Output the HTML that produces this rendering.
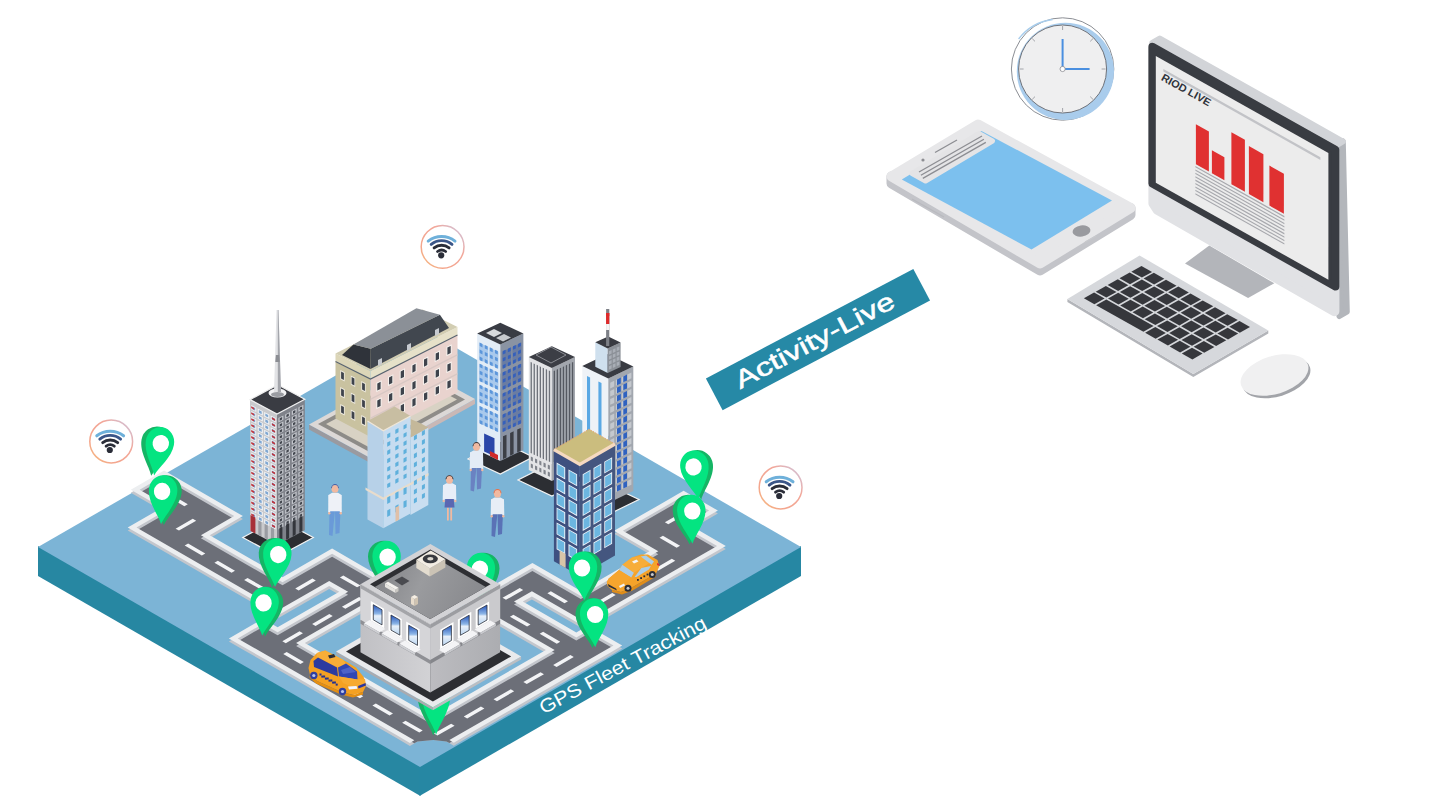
<!DOCTYPE html>
<html><head><meta charset="utf-8"><style>
html,body{margin:0;padding:0;background:#fff;overflow:hidden;}
svg{display:block;}
text{font-family:"Liberation Sans",sans-serif;}
</style></head><body>
<svg width="1440" height="810" viewBox="0 0 1440 810">
<defs>
<linearGradient id="cbL" x1="0" y1="0" x2="1" y2="0"><stop offset="0" stop-color="#c0c0c4"/><stop offset="1" stop-color="#d2d2d5"/></linearGradient>
<linearGradient id="cbR" x1="0" y1="0" x2="1" y2="0"><stop offset="0" stop-color="#bcbcc0"/><stop offset="1" stop-color="#acadb1"/></linearGradient>
<linearGradient id="roofG" x1="0" y1="0" x2="1" y2="0.3"><stop offset="0" stop-color="#7e7f83"/><stop offset="0.5" stop-color="#9a9b9e"/><stop offset="1" stop-color="#8a8b8f"/></linearGradient>
<linearGradient id="winG" x1="0" y1="0" x2="0" y2="1"><stop offset="0" stop-color="#2452b8"/><stop offset="0.45" stop-color="#8fb8e8"/><stop offset="0.55" stop-color="#e8f0fa"/><stop offset="1" stop-color="#b8d4f0"/></linearGradient>

<linearGradient id="wifiRing" x1="1" y1="0" x2="0" y2="1">
<stop offset="0" stop-color="#c9c8e6"/><stop offset="0.35" stop-color="#f2a79a"/><stop offset="0.75" stop-color="#f4a68c"/><stop offset="1" stop-color="#f6c07c"/>
</linearGradient>
</defs>
<rect width="1440" height="810" fill="#ffffff"/>
<polygon points="38.0,546.0 420.5,766.0 420.5,796.0 38.0,576.0" fill="#2787a2" />
<polygon points="419.5,766.0 801.0,546.0 801.0,576.0 419.5,796.0" fill="#2687a3" />
<polygon points="420.0,327.0 801.0,547.0 420.0,767.0 38.0,547.0" fill="#7cb4d6" />
<path d="M431.3,719.0L304.8,646.0L366.5,610.5L400.3,591.0L373.1,575.3L363.0,569.4L332.1,551.6L298.3,571.1L282.5,580.2L209.7,538.2L242.9,519.1L164.1,473.5L130.8,492.7L162.1,510.7L127.7,530.5L248.1,600.0L278.9,617.8L313.3,598.0L329.2,588.9L339.3,594.7L277.6,630.3L262.9,621.8L228.9,641.4L243.6,649.9L270.8,665.6L397.3,738.6L409.9,745.9L417.5,741.5L433.2,739.9L446.5,741.5L453.8,745.7L465.6,738.8L580.2,672.8L610.6,655.4L622.2,648.6L587.9,628.8L576.3,635.5L522.8,604.6L531.9,599.4L551.5,610.7L585.1,630.0L614.3,613.2L683.1,573.6L725.8,549.0L692.3,529.6L691.2,529.0L717.9,513.6L683.6,493.8L656.9,509.2L614.1,533.8L648.4,553.6L649.5,554.3L580.8,593.9L561.1,582.5L532.4,565.9L503.2,582.8L494.0,588.0L463.6,605.5L492.4,622.1L545.9,653.0L431.3,719.0Z" fill="#c3c6cc"/>
<path d="M431.3,724.1L296.1,646.0L391.6,591.0L332.1,556.7L282.5,585.3L200.9,538.2L234.2,519.1L164.1,478.6L139.6,492.7L170.8,510.7L136.5,530.5L279.0,612.8L329.2,583.9L348.1,594.7L277.6,635.3L262.9,626.9L237.7,641.4L414.3,743.3L417.5,741.5L433.2,739.9L446.5,741.5L449.4,743.1L613.5,648.6L587.9,633.9L576.3,640.6L514.0,604.6L531.9,594.3L585.1,625.0L717.1,549.0L682.4,529.0L709.1,513.6L683.6,498.8L622.9,533.8L658.3,554.3L580.8,598.9L532.4,571.0L472.4,605.5L554.7,653.0L431.3,724.1Z" fill="#6c6f78"/>
<path d="M304.8,643.0L366.5,607.5L400.3,588.0L373.1,572.3L363.0,566.4L332.1,548.6L298.3,568.1L282.5,577.2L209.7,535.2L242.9,516.1L164.1,470.5L130.8,489.7L162.1,507.7L127.7,527.5L248.1,597.0L278.9,614.8L313.3,595.0L329.2,585.9L339.3,591.7L277.6,627.3L262.9,618.8L228.9,638.4L243.6,646.9L270.8,662.6L397.3,735.6L409.9,742.9L414.3,740.3L237.7,638.4L262.9,623.9L277.6,632.3L348.1,591.7L329.2,580.9L279.0,609.8L136.5,527.5L170.8,507.7L139.6,489.7L164.1,475.6L234.2,516.1L200.9,535.2L282.5,582.3L332.1,553.7L391.6,588.0L296.1,643.0L431.3,721.1L554.7,650.0L472.4,602.5L532.4,568.0L580.8,595.9L658.3,551.3L622.9,530.8L683.6,495.8L709.1,510.6L682.4,526.0L717.1,546.0L585.1,622.0L531.9,591.3L514.0,601.6L576.3,637.6L587.9,630.9L613.5,645.6L449.4,740.1L453.8,742.7L465.6,735.8L580.2,669.8L610.6,652.4L622.2,645.6L587.9,625.8L576.3,632.5L522.8,601.6L531.9,596.4L551.5,607.7L585.1,627.0L614.3,610.2L683.1,570.6L725.8,546.0L692.3,526.6L691.2,526.0L717.9,510.6L683.6,490.8L656.9,506.2L614.1,530.8L648.4,550.6L649.5,551.3L580.8,590.9L561.1,579.5L532.4,562.9L503.2,579.8L494.0,585.0L463.6,602.5L492.4,619.1L545.9,650.0L431.3,716.0L304.8,643.0Z" fill="#eceef0"/>
<g transform="matrix(3.81,2.2,-3.82,2.2,420,327)"><path d="M5.40,71.10L9.90,71.10M14.30,73.30L14.30,77.80M18.90,80.00L23.40,80.00M26.70,80.00L31.20,80.00M34.50,80.00L39.00,80.00M43.60,75.70L43.60,71.20M46.50,66.90L51.00,66.90M53.90,69.25L53.90,73.75M53.90,77.05L53.90,81.55M53.90,84.85L53.90,89.35M56.50,91.70L61.00,91.70M64.30,91.70L68.80,91.70M72.10,91.70L76.60,91.70M79.90,91.70L84.40,91.70M87.70,91.70L92.20,91.70M94.80,90.45L94.80,85.95M94.80,82.65L94.80,78.15M94.80,74.85L94.80,70.35M94.80,67.05L94.80,62.55M94.80,59.25L94.80,54.75M90.00,53.50L85.50,53.50M82.20,53.50L77.70,53.50M72.90,50.65L72.90,46.15M77.30,43.30L81.80,43.30M86.20,39.70L86.20,35.20M86.20,31.90L86.20,27.40M86.20,24.10L86.20,19.60M83.85,16.00L79.35,16.00M77.00,12.25L77.00,7.75" fill="none" stroke="#f3f4f6" stroke-width="0.9"/></g>
<polygon points="309.0,424.5 369.5,457.5 369.5,462.5 309.0,429.5" fill="#9a9aa0" />
<polygon points="369.5,457.5 475.0,399.0 475.0,404.0 369.5,462.5" fill="#c9b8b6" />
<polygon points="309.0,424.5 369.5,457.5 475.0,399.0 414.5,366.0" fill="#dcd8d6" />
<polygon points="318.0,424.0 369.5,452.0 465.0,399.5 414.5,372.0" fill="#8e8c88" />
<polygon points="326.0,424.0 369.5,447.5 457.0,399.5 414.5,377.0" fill="#d8d2c4" />
<polygon points="335.5,418.5 370.5,437.0 370.5,379.0 335.5,361.5" fill="#c9c2a0" />
<polygon points="370.5,437.0 457.5,392.5 457.5,335.0 370.5,379.0" fill="#e9d3ce" />
<polygon points="340.3,413.2 344.7,415.5 344.7,406.2 340.3,403.9" fill="#eeeae0" />
<polygon points="340.3,396.2 344.7,398.5 344.7,389.2 340.3,386.9" fill="#eeeae0" />
<polygon points="340.3,379.2 344.7,381.5 344.7,372.2 340.3,369.9" fill="#eeeae0" />
<polygon points="350.8,418.8 355.2,421.1 355.2,411.7 350.8,409.4" fill="#eeeae0" />
<polygon points="350.8,401.8 355.2,404.1 355.2,394.7 350.8,392.4" fill="#eeeae0" />
<polygon points="350.8,384.8 355.2,387.1 355.2,377.7 350.8,375.4" fill="#eeeae0" />
<polygon points="361.3,424.3 365.7,426.6 365.7,417.3 361.3,415.0" fill="#eeeae0" />
<polygon points="361.3,407.3 365.7,409.6 365.7,400.3 361.3,398.0" fill="#eeeae0" />
<polygon points="361.3,390.3 365.7,392.6 365.7,383.3 361.3,381.0" fill="#eeeae0" />
<polygon points="341.1,412.5 343.9,414.0 343.9,406.9 341.1,405.4" fill="#3e434c" />
<polygon points="341.1,395.5 343.9,397.0 343.9,389.9 341.1,388.4" fill="#3e434c" />
<polygon points="341.1,378.5 343.9,380.0 343.9,372.9 341.1,371.4" fill="#3e434c" />
<polygon points="351.6,418.1 354.4,419.5 354.4,412.4 351.6,411.0" fill="#3e434c" />
<polygon points="351.6,401.1 354.4,402.5 354.4,395.4 351.6,394.0" fill="#3e434c" />
<polygon points="351.6,384.1 354.4,385.5 354.4,378.4 351.6,377.0" fill="#3e434c" />
<polygon points="362.1,423.6 364.9,425.1 364.9,418.0 362.1,416.5" fill="#3e434c" />
<polygon points="362.1,406.6 364.9,408.1 364.9,401.0 362.1,399.5" fill="#3e434c" />
<polygon points="362.1,389.6 364.9,391.1 364.9,384.0 362.1,382.5" fill="#3e434c" />
<polygon points="376.3,426.2 381.6,423.5 381.6,414.2 376.3,416.8" fill="#f6f2ee" />
<polygon points="376.3,409.2 381.6,406.5 381.6,397.2 376.3,399.8" fill="#f6f2ee" />
<polygon points="376.3,392.2 381.6,389.5 381.6,380.2 376.3,382.8" fill="#f6f2ee" />
<polygon points="388.0,420.2 393.3,417.5 393.3,408.2 388.0,410.9" fill="#f6f2ee" />
<polygon points="388.0,403.2 393.3,400.5 393.3,391.2 388.0,393.9" fill="#f6f2ee" />
<polygon points="388.0,386.2 393.3,383.5 393.3,374.2 388.0,376.9" fill="#f6f2ee" />
<polygon points="399.7,414.2 404.9,411.6 404.9,402.2 399.7,404.9" fill="#f6f2ee" />
<polygon points="399.7,397.2 404.9,394.6 404.9,385.2 399.7,387.9" fill="#f6f2ee" />
<polygon points="399.7,380.2 404.9,377.6 404.9,368.2 399.7,370.9" fill="#f6f2ee" />
<polygon points="411.4,408.3 416.6,405.6 416.6,396.2 411.4,398.9" fill="#f6f2ee" />
<polygon points="411.4,391.3 416.6,388.6 416.6,379.2 411.4,381.9" fill="#f6f2ee" />
<polygon points="411.4,374.3 416.6,371.6 416.6,362.2 411.4,364.9" fill="#f6f2ee" />
<polygon points="423.1,402.3 428.3,399.6 428.3,390.3 423.1,392.9" fill="#f6f2ee" />
<polygon points="423.1,385.3 428.3,382.6 428.3,373.3 423.1,375.9" fill="#f6f2ee" />
<polygon points="423.1,368.3 428.3,365.6 428.3,356.3 423.1,358.9" fill="#f6f2ee" />
<polygon points="434.7,396.3 440.0,393.6 440.0,384.3 434.7,387.0" fill="#f6f2ee" />
<polygon points="434.7,379.3 440.0,376.6 440.0,367.3 434.7,370.0" fill="#f6f2ee" />
<polygon points="434.7,362.3 440.0,359.6 440.0,350.3 434.7,353.0" fill="#f6f2ee" />
<polygon points="446.4,390.3 451.7,387.7 451.7,378.3 446.4,381.0" fill="#f6f2ee" />
<polygon points="446.4,373.3 451.7,370.7 451.7,361.3 446.4,364.0" fill="#f6f2ee" />
<polygon points="446.4,356.3 451.7,353.7 451.7,344.3 446.4,347.0" fill="#f6f2ee" />
<polygon points="377.3,424.6 380.6,422.9 380.6,415.8 377.3,417.4" fill="#3e434c" />
<polygon points="377.3,407.6 380.6,405.9 380.6,398.8 377.3,400.4" fill="#3e434c" />
<polygon points="377.3,390.6 380.6,388.9 380.6,381.8 377.3,383.4" fill="#3e434c" />
<polygon points="389.0,418.6 392.3,416.9 392.3,409.8 389.0,411.5" fill="#3e434c" />
<polygon points="389.0,401.6 392.3,399.9 392.3,392.8 389.0,394.5" fill="#3e434c" />
<polygon points="389.0,384.6 392.3,382.9 392.3,375.8 389.0,377.5" fill="#3e434c" />
<polygon points="400.7,412.6 404.0,411.0 404.0,403.8 400.7,405.5" fill="#3e434c" />
<polygon points="400.7,395.6 404.0,394.0 404.0,386.8 400.7,388.5" fill="#3e434c" />
<polygon points="400.7,378.6 404.0,377.0 404.0,369.8 400.7,371.5" fill="#3e434c" />
<polygon points="412.4,406.7 415.6,405.0 415.6,397.8 412.4,399.5" fill="#3e434c" />
<polygon points="412.4,389.7 415.6,388.0 415.6,380.8 412.4,382.5" fill="#3e434c" />
<polygon points="412.4,372.7 415.6,371.0 415.6,363.8 412.4,365.5" fill="#3e434c" />
<polygon points="424.0,400.7 427.3,399.0 427.3,391.9 424.0,393.5" fill="#3e434c" />
<polygon points="424.0,383.7 427.3,382.0 427.3,374.9 424.0,376.5" fill="#3e434c" />
<polygon points="424.0,366.7 427.3,365.0 427.3,357.9 424.0,359.5" fill="#3e434c" />
<polygon points="435.7,394.7 439.0,393.0 439.0,385.9 435.7,387.6" fill="#3e434c" />
<polygon points="435.7,377.7 439.0,376.0 439.0,368.9 435.7,370.6" fill="#3e434c" />
<polygon points="435.7,360.7 439.0,359.0 439.0,351.9 435.7,353.6" fill="#3e434c" />
<polygon points="447.4,388.7 450.7,387.1 450.7,379.9 447.4,381.6" fill="#3e434c" />
<polygon points="447.4,371.7 450.7,370.1 450.7,362.9 447.4,364.6" fill="#3e434c" />
<polygon points="447.4,354.7 450.7,353.1 450.7,345.9 447.4,347.6" fill="#3e434c" />
<polygon points="370.5,419.0 457.5,374.5 457.5,373.0 370.5,417.5" fill="#d8c8c4" />
<polygon points="370.5,400.0 457.5,355.5 457.5,354.0 370.5,398.5" fill="#d8c8c4" />
<polygon points="335.5,361.5 370.5,379.0 370.5,371.0 335.5,353.5" fill="#dcd6b8" />
<polygon points="370.5,379.0 457.5,335.0 457.5,327.0 370.5,371.0" fill="#e6e1c9" />
<polygon points="335.5,353.5 370.5,371.0 457.5,327.0 422.5,309.5" fill="#d2cdb2" />
<polyline points="335.5,361.5 370.5,379 457.5,335" fill="none" stroke="#5a6470" stroke-width="1.2"/>
<polygon points="342.0,355.0 370.5,369.0 370.7,348.8 353.5,344.4" fill="#2f333a" />
<polygon points="370.5,369.0 449.0,328.0 439.9,314.8 370.7,348.8" fill="#41474f" />
<polygon points="353.5,344.4 370.7,348.8 439.9,314.8 416.4,308.2" fill="#8b9097" />
<polygon points="378.0,366.0 382.0,364.0 382.0,358.0 378.0,360.0" fill="#c6cad0" />
<polygon points="407.0,351.0 411.0,349.0 411.0,343.0 407.0,345.0" fill="#c6cad0" />
<polygon points="435.0,336.0 439.0,334.0 439.0,328.0 435.0,330.0" fill="#c6cad0" />
<polygon points="242.8,537.5 278.0,556.5 313.3,537.5 278.0,518.5" fill="#2b2d31" stroke="#f4f4f4" stroke-width="1.2"/>
<polygon points="250.0,530.6 277.0,545.0 277.0,414.0 250.0,399.6" fill="#c9cacd" />
<polygon points="277.0,545.0 304.8,530.2 304.8,399.2 277.0,414.0" fill="#7f828a" />
<polygon points="250.0,399.6 277.0,414.0 304.8,399.2 277.8,384.8" fill="#3a3c43" />
<polygon points="251.3,516.5 256.3,519.2 256.3,514.8 251.3,512.1" fill="#f3f4f6" />
<polygon points="251.3,510.5 256.3,513.2 256.3,508.8 251.3,506.1" fill="#f3f4f6" />
<polygon points="251.3,504.6 256.3,507.3 256.3,502.9 251.3,500.2" fill="#f3f4f6" />
<polygon points="251.3,498.7 256.3,501.3 256.3,496.9 251.3,494.3" fill="#f3f4f6" />
<polygon points="251.3,492.7 256.3,495.4 256.3,491.0 251.3,488.3" fill="#f3f4f6" />
<polygon points="251.3,486.8 256.3,489.5 256.3,485.1 251.3,482.4" fill="#f3f4f6" />
<polygon points="251.3,480.8 256.3,483.5 256.3,479.1 251.3,476.4" fill="#f3f4f6" />
<polygon points="251.3,474.9 256.3,477.6 256.3,473.2 251.3,470.5" fill="#f3f4f6" />
<polygon points="251.3,468.9 256.3,471.6 256.3,467.2 251.3,464.5" fill="#f3f4f6" />
<polygon points="251.3,463.0 256.3,465.7 256.3,461.3 251.3,458.6" fill="#f3f4f6" />
<polygon points="251.3,457.0 256.3,459.7 256.3,455.3 251.3,452.6" fill="#f3f4f6" />
<polygon points="251.3,451.1 256.3,453.8 256.3,449.4 251.3,446.7" fill="#f3f4f6" />
<polygon points="251.3,445.1 256.3,447.8 256.3,443.4 251.3,440.7" fill="#f3f4f6" />
<polygon points="251.3,439.2 256.3,441.9 256.3,437.5 251.3,434.8" fill="#f3f4f6" />
<polygon points="251.3,433.2 256.3,435.9 256.3,431.5 251.3,428.8" fill="#f3f4f6" />
<polygon points="251.3,427.3 256.3,430.0 256.3,425.6 251.3,422.9" fill="#f3f4f6" />
<polygon points="251.3,421.3 256.3,424.0 256.3,419.6 251.3,416.9" fill="#f3f4f6" />
<polygon points="251.3,415.4 256.3,418.1 256.3,413.7 251.3,411.0" fill="#f3f4f6" />
<polygon points="251.3,409.4 256.3,412.1 256.3,407.7 251.3,405.0" fill="#f3f4f6" />
<polygon points="257.7,520.0 262.8,522.6 262.8,518.2 257.7,515.5" fill="#f3f4f6" />
<polygon points="257.7,514.0 262.8,516.7 262.8,512.3 257.7,509.6" fill="#f3f4f6" />
<polygon points="257.7,508.1 262.8,510.8 262.8,506.4 257.7,503.7" fill="#f3f4f6" />
<polygon points="257.7,502.1 262.8,504.8 262.8,500.4 257.7,497.7" fill="#f3f4f6" />
<polygon points="257.7,496.2 262.8,498.9 262.8,494.5 257.7,491.8" fill="#f3f4f6" />
<polygon points="257.7,490.2 262.8,492.9 262.8,488.5 257.7,485.8" fill="#f3f4f6" />
<polygon points="257.7,484.3 262.8,487.0 262.8,482.6 257.7,479.9" fill="#f3f4f6" />
<polygon points="257.7,478.3 262.8,481.0 262.8,476.6 257.7,473.9" fill="#f3f4f6" />
<polygon points="257.7,472.4 262.8,475.1 262.8,470.7 257.7,468.0" fill="#f3f4f6" />
<polygon points="257.7,466.4 262.8,469.1 262.8,464.7 257.7,462.0" fill="#f3f4f6" />
<polygon points="257.7,460.5 262.8,463.2 262.8,458.8 257.7,456.1" fill="#f3f4f6" />
<polygon points="257.7,454.5 262.8,457.2 262.8,452.8 257.7,450.1" fill="#f3f4f6" />
<polygon points="257.7,448.6 262.8,451.3 262.8,446.9 257.7,444.2" fill="#f3f4f6" />
<polygon points="257.7,442.6 262.8,445.3 262.8,440.9 257.7,438.2" fill="#f3f4f6" />
<polygon points="257.7,436.7 262.8,439.4 262.8,435.0 257.7,432.3" fill="#f3f4f6" />
<polygon points="257.7,430.7 262.8,433.4 262.8,429.0 257.7,426.3" fill="#f3f4f6" />
<polygon points="257.7,424.8 262.8,427.5 262.8,423.1 257.7,420.4" fill="#f3f4f6" />
<polygon points="257.7,418.8 262.8,421.5 262.8,417.1 257.7,414.4" fill="#f3f4f6" />
<polygon points="257.7,412.9 262.8,415.6 262.8,411.2 257.7,408.5" fill="#f3f4f6" />
<polygon points="264.2,523.4 269.3,526.1 269.3,521.7 264.2,519.0" fill="#f3f4f6" />
<polygon points="264.2,517.5 269.3,520.2 269.3,515.8 264.2,513.1" fill="#f3f4f6" />
<polygon points="264.2,511.5 269.3,514.2 269.3,509.8 264.2,507.1" fill="#f3f4f6" />
<polygon points="264.2,505.6 269.3,508.3 269.3,503.9 264.2,501.2" fill="#f3f4f6" />
<polygon points="264.2,499.6 269.3,502.3 269.3,497.9 264.2,495.2" fill="#f3f4f6" />
<polygon points="264.2,493.7 269.3,496.4 269.3,492.0 264.2,489.3" fill="#f3f4f6" />
<polygon points="264.2,487.7 269.3,490.4 269.3,486.0 264.2,483.3" fill="#f3f4f6" />
<polygon points="264.2,481.8 269.3,484.5 269.3,480.1 264.2,477.4" fill="#f3f4f6" />
<polygon points="264.2,475.8 269.3,478.5 269.3,474.1 264.2,471.4" fill="#f3f4f6" />
<polygon points="264.2,469.9 269.3,472.6 269.3,468.2 264.2,465.5" fill="#f3f4f6" />
<polygon points="264.2,463.9 269.3,466.6 269.3,462.2 264.2,459.5" fill="#f3f4f6" />
<polygon points="264.2,458.0 269.3,460.7 269.3,456.3 264.2,453.6" fill="#f3f4f6" />
<polygon points="264.2,452.0 269.3,454.7 269.3,450.3 264.2,447.6" fill="#f3f4f6" />
<polygon points="264.2,446.1 269.3,448.8 269.3,444.4 264.2,441.7" fill="#f3f4f6" />
<polygon points="264.2,440.1 269.3,442.8 269.3,438.4 264.2,435.7" fill="#f3f4f6" />
<polygon points="264.2,434.2 269.3,436.9 269.3,432.5 264.2,429.8" fill="#f3f4f6" />
<polygon points="264.2,428.2 269.3,430.9 269.3,426.5 264.2,423.8" fill="#f3f4f6" />
<polygon points="264.2,422.3 269.3,425.0 269.3,420.6 264.2,417.9" fill="#f3f4f6" />
<polygon points="264.2,416.4 269.3,419.1 269.3,414.6 264.2,412.0" fill="#f3f4f6" />
<polygon points="270.7,526.9 275.7,529.6 275.7,525.2 270.7,522.5" fill="#f3f4f6" />
<polygon points="270.7,520.9 275.7,523.6 275.7,519.2 270.7,516.5" fill="#f3f4f6" />
<polygon points="270.7,515.0 275.7,517.7 275.7,513.3 270.7,510.6" fill="#f3f4f6" />
<polygon points="270.7,509.0 275.7,511.7 275.7,507.3 270.7,504.6" fill="#f3f4f6" />
<polygon points="270.7,503.1 275.7,505.8 275.7,501.4 270.7,498.7" fill="#f3f4f6" />
<polygon points="270.7,497.1 275.7,499.8 275.7,495.4 270.7,492.7" fill="#f3f4f6" />
<polygon points="270.7,491.2 275.7,493.9 275.7,489.5 270.7,486.8" fill="#f3f4f6" />
<polygon points="270.7,485.2 275.7,487.9 275.7,483.5 270.7,480.8" fill="#f3f4f6" />
<polygon points="270.7,479.3 275.7,482.0 275.7,477.6 270.7,474.9" fill="#f3f4f6" />
<polygon points="270.7,473.3 275.7,476.0 275.7,471.6 270.7,468.9" fill="#f3f4f6" />
<polygon points="270.7,467.4 275.7,470.1 275.7,465.7 270.7,463.0" fill="#f3f4f6" />
<polygon points="270.7,461.4 275.7,464.1 275.7,459.7 270.7,457.0" fill="#f3f4f6" />
<polygon points="270.7,455.5 275.7,458.2 275.7,453.8 270.7,451.1" fill="#f3f4f6" />
<polygon points="270.7,449.5 275.7,452.2 275.7,447.8 270.7,445.1" fill="#f3f4f6" />
<polygon points="270.7,443.6 275.7,446.3 275.7,441.9 270.7,439.2" fill="#f3f4f6" />
<polygon points="270.7,437.7 275.7,440.3 275.7,435.9 270.7,433.3" fill="#f3f4f6" />
<polygon points="270.7,431.7 275.7,434.4 275.7,430.0 270.7,427.3" fill="#f3f4f6" />
<polygon points="270.7,425.8 275.7,428.5 275.7,424.1 270.7,421.4" fill="#f3f4f6" />
<polygon points="270.7,419.8 275.7,422.5 275.7,418.1 270.7,415.4" fill="#f3f4f6" />
<polygon points="252.4,516.2 255.2,517.8 255.2,515.0 252.4,513.5" fill="#7fa7d2" />
<polygon points="252.4,510.3 255.2,511.8 255.2,509.1 252.4,507.6" fill="#7fa7d2" />
<polygon points="252.4,504.4 255.2,505.9 255.2,503.1 252.4,501.6" fill="#7fa7d2" />
<polygon points="252.4,498.4 255.2,499.9 255.2,497.2 252.4,495.7" fill="#7fa7d2" />
<polygon points="252.4,492.5 255.2,494.0 255.2,491.2 252.4,489.7" fill="#7fa7d2" />
<polygon points="252.4,486.5 255.2,488.0 255.2,485.3 252.4,483.8" fill="#7fa7d2" />
<polygon points="252.4,480.6 255.2,482.1 255.2,479.4 252.4,477.8" fill="#7fa7d2" />
<polygon points="252.4,474.6 255.2,476.1 255.2,473.4 252.4,471.9" fill="#7fa7d2" />
<polygon points="252.4,468.7 255.2,470.2 255.2,467.5 252.4,465.9" fill="#7fa7d2" />
<polygon points="252.4,462.7 255.2,464.2 255.2,461.5 252.4,460.0" fill="#7fa7d2" />
<polygon points="252.4,456.8 255.2,458.3 255.2,455.6 252.4,454.0" fill="#7fa7d2" />
<polygon points="252.4,450.8 255.2,452.3 255.2,449.6 252.4,448.1" fill="#7fa7d2" />
<polygon points="252.4,444.9 255.2,446.4 255.2,443.7 252.4,442.1" fill="#7fa7d2" />
<polygon points="252.4,438.9 255.2,440.5 255.2,437.7 252.4,436.2" fill="#7fa7d2" />
<polygon points="252.4,433.0 255.2,434.5 255.2,431.8 252.4,430.3" fill="#7fa7d2" />
<polygon points="252.4,427.0 255.2,428.6 255.2,425.8 252.4,424.3" fill="#7fa7d2" />
<polygon points="252.4,421.1 255.2,422.6 255.2,419.9 252.4,418.4" fill="#7fa7d2" />
<polygon points="252.4,415.1 255.2,416.7 255.2,413.9 252.4,412.4" fill="#7fa7d2" />
<polygon points="252.4,409.2 255.2,410.7 255.2,408.0 252.4,406.5" fill="#7fa7d2" />
<polygon points="258.8,519.7 261.7,521.2 261.7,518.5 258.8,517.0" fill="#7fa7d2" />
<polygon points="258.8,513.8 261.7,515.3 261.7,512.5 258.8,511.0" fill="#7fa7d2" />
<polygon points="258.8,507.8 261.7,509.3 261.7,506.6 258.8,505.1" fill="#7fa7d2" />
<polygon points="258.8,501.9 261.7,503.4 261.7,500.6 258.8,499.1" fill="#7fa7d2" />
<polygon points="258.8,495.9 261.7,497.4 261.7,494.7 258.8,493.2" fill="#7fa7d2" />
<polygon points="258.8,490.0 261.7,491.5 261.7,488.8 258.8,487.2" fill="#7fa7d2" />
<polygon points="258.8,484.0 261.7,485.5 261.7,482.8 258.8,481.3" fill="#7fa7d2" />
<polygon points="258.8,478.1 261.7,479.6 261.7,476.9 258.8,475.3" fill="#7fa7d2" />
<polygon points="258.8,472.1 261.7,473.6 261.7,470.9 258.8,469.4" fill="#7fa7d2" />
<polygon points="258.8,466.2 261.7,467.7 261.7,465.0 258.8,463.4" fill="#7fa7d2" />
<polygon points="258.8,460.2 261.7,461.8 261.7,459.0 258.8,457.5" fill="#7fa7d2" />
<polygon points="258.8,454.3 261.7,455.8 261.7,453.1 258.8,451.5" fill="#7fa7d2" />
<polygon points="258.8,448.3 261.7,449.9 261.7,447.1 258.8,445.6" fill="#7fa7d2" />
<polygon points="258.8,442.4 261.7,443.9 261.7,441.2 258.8,439.7" fill="#7fa7d2" />
<polygon points="258.8,436.4 261.7,438.0 261.7,435.2 258.8,433.7" fill="#7fa7d2" />
<polygon points="258.8,430.5 261.7,432.0 261.7,429.3 258.8,427.8" fill="#7fa7d2" />
<polygon points="258.8,424.5 261.7,426.1 261.7,423.3 258.8,421.8" fill="#7fa7d2" />
<polygon points="258.8,418.6 261.7,420.1 261.7,417.4 258.8,415.9" fill="#7fa7d2" />
<polygon points="258.8,412.7 261.7,414.2 261.7,411.4 258.8,409.9" fill="#7fa7d2" />
<polygon points="265.3,523.2 268.2,524.7 268.2,521.9 265.3,520.4" fill="#7fa7d2" />
<polygon points="265.3,517.2 268.2,518.7 268.2,516.0 265.3,514.5" fill="#7fa7d2" />
<polygon points="265.3,511.3 268.2,512.8 268.2,510.1 265.3,508.5" fill="#7fa7d2" />
<polygon points="265.3,505.3 268.2,506.8 268.2,504.1 265.3,502.6" fill="#7fa7d2" />
<polygon points="265.3,499.4 268.2,500.9 268.2,498.2 265.3,496.6" fill="#7fa7d2" />
<polygon points="265.3,493.4 268.2,494.9 268.2,492.2 265.3,490.7" fill="#7fa7d2" />
<polygon points="265.3,487.5 268.2,489.0 268.2,486.3 265.3,484.7" fill="#7fa7d2" />
<polygon points="265.3,481.5 268.2,483.1 268.2,480.3 265.3,478.8" fill="#7fa7d2" />
<polygon points="265.3,475.6 268.2,477.1 268.2,474.4 265.3,472.8" fill="#7fa7d2" />
<polygon points="265.3,469.6 268.2,471.2 268.2,468.4 265.3,466.9" fill="#7fa7d2" />
<polygon points="265.3,463.7 268.2,465.2 268.2,462.5 265.3,461.0" fill="#7fa7d2" />
<polygon points="265.3,457.7 268.2,459.3 268.2,456.5 265.3,455.0" fill="#7fa7d2" />
<polygon points="265.3,451.8 268.2,453.3 268.2,450.6 265.3,449.1" fill="#7fa7d2" />
<polygon points="265.3,445.8 268.2,447.4 268.2,444.6 265.3,443.1" fill="#7fa7d2" />
<polygon points="265.3,439.9 268.2,441.4 268.2,438.7 265.3,437.2" fill="#7fa7d2" />
<polygon points="265.3,434.0 268.2,435.5 268.2,432.7 265.3,431.2" fill="#7fa7d2" />
<polygon points="265.3,428.0 268.2,429.5 268.2,426.8 265.3,425.3" fill="#7fa7d2" />
<polygon points="265.3,422.1 268.2,423.6 268.2,420.8 265.3,419.3" fill="#7fa7d2" />
<polygon points="265.3,416.1 268.2,417.6 268.2,414.9 265.3,413.4" fill="#7fa7d2" />
<polygon points="271.8,526.6 274.6,528.1 274.6,525.4 271.8,523.9" fill="#7fa7d2" />
<polygon points="271.8,520.7 274.6,522.2 274.6,519.5 271.8,517.9" fill="#7fa7d2" />
<polygon points="271.8,514.7 274.6,516.2 274.6,513.5 271.8,512.0" fill="#7fa7d2" />
<polygon points="271.8,508.8 274.6,510.3 274.6,507.6 271.8,506.0" fill="#7fa7d2" />
<polygon points="271.8,502.8 274.6,504.3 274.6,501.6 271.8,500.1" fill="#7fa7d2" />
<polygon points="271.8,496.9 274.6,498.4 274.6,495.7 271.8,494.1" fill="#7fa7d2" />
<polygon points="271.8,490.9 274.6,492.5 274.6,489.7 271.8,488.2" fill="#7fa7d2" />
<polygon points="271.8,485.0 274.6,486.5 274.6,483.8 271.8,482.3" fill="#7fa7d2" />
<polygon points="271.8,479.0 274.6,480.6 274.6,477.8 271.8,476.3" fill="#7fa7d2" />
<polygon points="271.8,473.1 274.6,474.6 274.6,471.9 271.8,470.4" fill="#7fa7d2" />
<polygon points="271.8,467.1 274.6,468.7 274.6,465.9 271.8,464.4" fill="#7fa7d2" />
<polygon points="271.8,461.2 274.6,462.7 274.6,460.0 271.8,458.5" fill="#7fa7d2" />
<polygon points="271.8,455.2 274.6,456.8 274.6,454.0 271.8,452.5" fill="#7fa7d2" />
<polygon points="271.8,449.3 274.6,450.8 274.6,448.1 271.8,446.6" fill="#7fa7d2" />
<polygon points="271.8,443.4 274.6,444.9 274.6,442.1 271.8,440.6" fill="#7fa7d2" />
<polygon points="271.8,437.4 274.6,438.9 274.6,436.2 271.8,434.7" fill="#7fa7d2" />
<polygon points="271.8,431.5 274.6,433.0 274.6,430.2 271.8,428.7" fill="#7fa7d2" />
<polygon points="271.8,425.5 274.6,427.0 274.6,424.3 271.8,422.8" fill="#7fa7d2" />
<polygon points="271.8,419.6 274.6,421.1 274.6,418.4 271.8,416.8" fill="#7fa7d2" />
<polygon points="251.2,515.2 254.2,516.8 254.2,515.0 251.2,513.4" fill="#c8343a" />
<polygon points="251.2,509.2 254.2,510.8 254.2,509.0 251.2,507.4" fill="#c8343a" />
<polygon points="251.2,503.3 254.2,504.9 254.2,503.1 251.2,501.5" fill="#c8343a" />
<polygon points="251.2,497.3 254.2,498.9 254.2,497.1 251.2,495.5" fill="#c8343a" />
<polygon points="251.2,491.4 254.2,493.0 254.2,491.2 251.2,489.6" fill="#c8343a" />
<polygon points="251.2,485.4 254.2,487.0 254.2,485.2 251.2,483.6" fill="#c8343a" />
<polygon points="251.2,479.5 254.2,481.1 254.2,479.3 251.2,477.7" fill="#c8343a" />
<polygon points="251.2,473.5 254.2,475.1 254.2,473.3 251.2,471.8" fill="#c8343a" />
<polygon points="251.2,467.6 254.2,469.2 254.2,467.4 251.2,465.8" fill="#c8343a" />
<polygon points="251.2,461.6 254.2,463.2 254.2,461.4 251.2,459.9" fill="#c8343a" />
<polygon points="251.2,455.7 254.2,457.3 254.2,455.5 251.2,453.9" fill="#c8343a" />
<polygon points="251.2,449.7 254.2,451.3 254.2,449.5 251.2,448.0" fill="#c8343a" />
<polygon points="251.2,443.8 254.2,445.4 254.2,443.6 251.2,442.0" fill="#c8343a" />
<polygon points="251.2,437.9 254.2,439.4 254.2,437.7 251.2,436.1" fill="#c8343a" />
<polygon points="251.2,431.9 254.2,433.5 254.2,431.7 251.2,430.1" fill="#c8343a" />
<polygon points="251.2,426.0 254.2,427.5 254.2,425.8 251.2,424.2" fill="#c8343a" />
<polygon points="251.2,420.0 254.2,421.6 254.2,419.8 251.2,418.2" fill="#c8343a" />
<polygon points="251.2,414.1 254.2,415.6 254.2,413.9 251.2,412.3" fill="#c8343a" />
<polygon points="251.2,408.1 254.2,409.7 254.2,407.9 251.2,406.3" fill="#c8343a" />
<polygon points="271.9,526.2 275.1,527.9 275.1,526.1 271.9,524.4" fill="#c0323a" />
<polygon points="271.9,520.2 275.1,522.0 275.1,520.2 271.9,518.4" fill="#c0323a" />
<polygon points="271.9,514.3 275.1,516.0 275.1,514.2 271.9,512.5" fill="#c0323a" />
<polygon points="271.9,508.3 275.1,510.1 275.1,508.3 271.9,506.5" fill="#c0323a" />
<polygon points="271.9,502.4 275.1,504.1 275.1,502.3 271.9,500.6" fill="#c0323a" />
<polygon points="271.9,496.4 275.1,498.2 275.1,496.4 271.9,494.7" fill="#c0323a" />
<polygon points="271.9,490.5 275.1,492.2 275.1,490.4 271.9,488.7" fill="#c0323a" />
<polygon points="271.9,484.5 275.1,486.3 275.1,484.5 271.9,482.8" fill="#c0323a" />
<polygon points="271.9,478.6 275.1,480.3 275.1,478.6 271.9,476.8" fill="#c0323a" />
<polygon points="271.9,472.6 275.1,474.4 275.1,472.6 271.9,470.9" fill="#c0323a" />
<polygon points="271.9,466.7 275.1,468.4 275.1,466.7 271.9,464.9" fill="#c0323a" />
<polygon points="271.9,460.8 275.1,462.5 275.1,460.7 271.9,459.0" fill="#c0323a" />
<polygon points="271.9,454.8 275.1,456.5 275.1,454.8 271.9,453.0" fill="#c0323a" />
<polygon points="271.9,448.9 275.1,450.6 275.1,448.8 271.9,447.1" fill="#c0323a" />
<polygon points="271.9,442.9 275.1,444.7 275.1,442.9 271.9,441.1" fill="#c0323a" />
<polygon points="271.9,437.0 275.1,438.7 275.1,436.9 271.9,435.2" fill="#c0323a" />
<polygon points="271.9,431.0 275.1,432.8 275.1,431.0 271.9,429.2" fill="#c0323a" />
<polygon points="271.9,425.1 275.1,426.8 275.1,425.0 271.9,423.3" fill="#c0323a" />
<polygon points="271.9,419.1 275.1,420.9 275.1,419.1 271.9,417.3" fill="#c0323a" />
<polygon points="250.5,530.9 255.4,533.5 255.4,517.5 250.5,514.9" fill="#a83038" />
<polygon points="258.3,534.7 261.5,536.3 261.5,522.1 258.3,520.4" fill="#9a9ca2" />
<polygon points="264.6,538.0 267.8,539.7 267.8,525.5 264.6,523.8" fill="#9a9ca2" />
<polygon points="270.9,541.4 274.1,543.1 274.1,528.8 270.9,527.1" fill="#9a9ca2" />
<polygon points="278.4,529.4 283.4,526.8 283.4,522.5 278.4,525.1" fill="#c3c6cc" />
<polygon points="278.4,523.5 283.4,520.8 283.4,516.6 278.4,519.2" fill="#c3c6cc" />
<polygon points="278.4,517.5 283.4,514.9 283.4,510.6 278.4,513.2" fill="#c3c6cc" />
<polygon points="278.4,511.6 283.4,508.9 283.4,504.7 278.4,507.3" fill="#c3c6cc" />
<polygon points="278.4,505.6 283.4,503.0 283.4,498.7 278.4,501.3" fill="#c3c6cc" />
<polygon points="278.4,499.7 283.4,497.0 283.4,492.8 278.4,495.4" fill="#c3c6cc" />
<polygon points="278.4,493.7 283.4,491.1 283.4,486.8 278.4,489.4" fill="#c3c6cc" />
<polygon points="278.4,487.8 283.4,485.1 283.4,480.9 278.4,483.5" fill="#c3c6cc" />
<polygon points="278.4,481.8 283.4,479.2 283.4,474.9 278.4,477.5" fill="#c3c6cc" />
<polygon points="278.4,475.9 283.4,473.3 283.4,469.0 278.4,471.6" fill="#c3c6cc" />
<polygon points="278.4,469.9 283.4,467.3 283.4,463.0 278.4,465.7" fill="#c3c6cc" />
<polygon points="278.4,464.0 283.4,461.4 283.4,457.1 278.4,459.7" fill="#c3c6cc" />
<polygon points="278.4,458.0 283.4,455.4 283.4,451.1 278.4,453.8" fill="#c3c6cc" />
<polygon points="278.4,452.1 283.4,449.5 283.4,445.2 278.4,447.8" fill="#c3c6cc" />
<polygon points="278.4,446.1 283.4,443.5 283.4,439.2 278.4,441.9" fill="#c3c6cc" />
<polygon points="278.4,440.2 283.4,437.6 283.4,433.3 278.4,435.9" fill="#c3c6cc" />
<polygon points="278.4,434.3 283.4,431.6 283.4,427.3 278.4,430.0" fill="#c3c6cc" />
<polygon points="278.4,428.3 283.4,425.7 283.4,421.4 278.4,424.0" fill="#c3c6cc" />
<polygon points="278.4,422.4 283.4,419.7 283.4,415.4 278.4,418.1" fill="#c3c6cc" />
<polygon points="285.1,525.9 290.0,523.2 290.0,518.9 285.1,521.6" fill="#c3c6cc" />
<polygon points="285.1,519.9 290.0,517.3 290.0,513.0 285.1,515.6" fill="#c3c6cc" />
<polygon points="285.1,514.0 290.0,511.3 290.0,507.1 285.1,509.7" fill="#c3c6cc" />
<polygon points="285.1,508.0 290.0,505.4 290.0,501.1 285.1,503.7" fill="#c3c6cc" />
<polygon points="285.1,502.1 290.0,499.4 290.0,495.2 285.1,497.8" fill="#c3c6cc" />
<polygon points="285.1,496.1 290.0,493.5 290.0,489.2 285.1,491.8" fill="#c3c6cc" />
<polygon points="285.1,490.2 290.0,487.5 290.0,483.3 285.1,485.9" fill="#c3c6cc" />
<polygon points="285.1,484.2 290.0,481.6 290.0,477.3 285.1,479.9" fill="#c3c6cc" />
<polygon points="285.1,478.3 290.0,475.7 290.0,471.4 285.1,474.0" fill="#c3c6cc" />
<polygon points="285.1,472.3 290.0,469.7 290.0,465.4 285.1,468.0" fill="#c3c6cc" />
<polygon points="285.1,466.4 290.0,463.8 290.0,459.5 285.1,462.1" fill="#c3c6cc" />
<polygon points="285.1,460.4 290.0,457.8 290.0,453.5 285.1,456.2" fill="#c3c6cc" />
<polygon points="285.1,454.5 290.0,451.9 290.0,447.6 285.1,450.2" fill="#c3c6cc" />
<polygon points="285.1,448.5 290.0,445.9 290.0,441.6 285.1,444.3" fill="#c3c6cc" />
<polygon points="285.1,442.6 290.0,440.0 290.0,435.7 285.1,438.3" fill="#c3c6cc" />
<polygon points="285.1,436.6 290.0,434.0 290.0,429.7 285.1,432.4" fill="#c3c6cc" />
<polygon points="285.1,430.7 290.0,428.1 290.0,423.8 285.1,426.4" fill="#c3c6cc" />
<polygon points="285.1,424.8 290.0,422.1 290.0,417.8 285.1,420.5" fill="#c3c6cc" />
<polygon points="285.1,418.8 290.0,416.2 290.0,411.9 285.1,414.5" fill="#c3c6cc" />
<polygon points="291.8,522.3 296.7,519.7 296.7,515.4 291.8,518.0" fill="#c3c6cc" />
<polygon points="291.8,516.4 296.7,513.7 296.7,509.4 291.8,512.1" fill="#c3c6cc" />
<polygon points="291.8,510.4 296.7,507.8 296.7,503.5 291.8,506.1" fill="#c3c6cc" />
<polygon points="291.8,504.5 296.7,501.8 296.7,497.6 291.8,500.2" fill="#c3c6cc" />
<polygon points="291.8,498.5 296.7,495.9 296.7,491.6 291.8,494.2" fill="#c3c6cc" />
<polygon points="291.8,492.6 296.7,489.9 296.7,485.7 291.8,488.3" fill="#c3c6cc" />
<polygon points="291.8,486.6 296.7,484.0 296.7,479.7 291.8,482.3" fill="#c3c6cc" />
<polygon points="291.8,480.7 296.7,478.0 296.7,473.8 291.8,476.4" fill="#c3c6cc" />
<polygon points="291.8,474.7 296.7,472.1 296.7,467.8 291.8,470.4" fill="#c3c6cc" />
<polygon points="291.8,468.8 296.7,466.2 296.7,461.9 291.8,464.5" fill="#c3c6cc" />
<polygon points="291.8,462.8 296.7,460.2 296.7,455.9 291.8,458.5" fill="#c3c6cc" />
<polygon points="291.8,456.9 296.7,454.3 296.7,450.0 291.8,452.6" fill="#c3c6cc" />
<polygon points="291.8,450.9 296.7,448.3 296.7,444.0 291.8,446.7" fill="#c3c6cc" />
<polygon points="291.8,445.0 296.7,442.4 296.7,438.1 291.8,440.7" fill="#c3c6cc" />
<polygon points="291.8,439.0 296.7,436.4 296.7,432.1 291.8,434.8" fill="#c3c6cc" />
<polygon points="291.8,433.1 296.7,430.5 296.7,426.2 291.8,428.8" fill="#c3c6cc" />
<polygon points="291.8,427.1 296.7,424.5 296.7,420.2 291.8,422.9" fill="#c3c6cc" />
<polygon points="291.8,421.2 296.7,418.6 296.7,414.3 291.8,416.9" fill="#c3c6cc" />
<polygon points="291.8,415.3 296.7,412.6 296.7,408.3 291.8,411.0" fill="#c3c6cc" />
<polygon points="298.4,518.8 303.4,516.1 303.4,511.8 298.4,514.5" fill="#c3c6cc" />
<polygon points="298.4,512.8 303.4,510.2 303.4,505.9 298.4,508.5" fill="#c3c6cc" />
<polygon points="298.4,506.9 303.4,504.2 303.4,499.9 298.4,502.6" fill="#c3c6cc" />
<polygon points="298.4,500.9 303.4,498.3 303.4,494.0 298.4,496.6" fill="#c3c6cc" />
<polygon points="298.4,495.0 303.4,492.3 303.4,488.1 298.4,490.7" fill="#c3c6cc" />
<polygon points="298.4,489.0 303.4,486.4 303.4,482.1 298.4,484.7" fill="#c3c6cc" />
<polygon points="298.4,483.1 303.4,480.4 303.4,476.2 298.4,478.8" fill="#c3c6cc" />
<polygon points="298.4,477.1 303.4,474.5 303.4,470.2 298.4,472.8" fill="#c3c6cc" />
<polygon points="298.4,471.2 303.4,468.5 303.4,464.3 298.4,466.9" fill="#c3c6cc" />
<polygon points="298.4,465.2 303.4,462.6 303.4,458.3 298.4,460.9" fill="#c3c6cc" />
<polygon points="298.4,459.3 303.4,456.7 303.4,452.4 298.4,455.0" fill="#c3c6cc" />
<polygon points="298.4,453.3 303.4,450.7 303.4,446.4 298.4,449.1" fill="#c3c6cc" />
<polygon points="298.4,447.4 303.4,444.8 303.4,440.5 298.4,443.1" fill="#c3c6cc" />
<polygon points="298.4,441.4 303.4,438.8 303.4,434.5 298.4,437.2" fill="#c3c6cc" />
<polygon points="298.4,435.5 303.4,432.9 303.4,428.6 298.4,431.2" fill="#c3c6cc" />
<polygon points="298.4,429.5 303.4,426.9 303.4,422.6 298.4,425.3" fill="#c3c6cc" />
<polygon points="298.4,423.6 303.4,421.0 303.4,416.7 298.4,419.3" fill="#c3c6cc" />
<polygon points="298.4,417.6 303.4,415.0 303.4,410.7 298.4,413.4" fill="#c3c6cc" />
<polygon points="298.4,411.7 303.4,409.1 303.4,404.8 298.4,407.4" fill="#c3c6cc" />
<polygon points="279.7,527.8 282.1,526.6 282.1,524.1 279.7,525.3" fill="#43474f" />
<polygon points="279.7,521.9 282.1,520.6 282.1,518.1 279.7,519.4" fill="#43474f" />
<polygon points="279.7,515.9 282.1,514.7 282.1,512.2 279.7,513.4" fill="#43474f" />
<polygon points="279.7,510.0 282.1,508.7 282.1,506.2 279.7,507.5" fill="#43474f" />
<polygon points="279.7,504.1 282.1,502.8 282.1,500.3 279.7,501.6" fill="#43474f" />
<polygon points="279.7,498.1 282.1,496.8 282.1,494.3 279.7,495.6" fill="#43474f" />
<polygon points="279.7,492.2 282.1,490.9 282.1,488.4 279.7,489.7" fill="#43474f" />
<polygon points="279.7,486.2 282.1,484.9 282.1,482.4 279.7,483.7" fill="#43474f" />
<polygon points="279.7,480.3 282.1,479.0 282.1,476.5 279.7,477.8" fill="#43474f" />
<polygon points="279.7,474.3 282.1,473.0 282.1,470.5 279.7,471.8" fill="#43474f" />
<polygon points="279.7,468.4 282.1,467.1 282.1,464.6 279.7,465.9" fill="#43474f" />
<polygon points="279.7,462.4 282.1,461.1 282.1,458.6 279.7,459.9" fill="#43474f" />
<polygon points="279.7,456.5 282.1,455.2 282.1,452.7 279.7,454.0" fill="#43474f" />
<polygon points="279.7,450.5 282.1,449.2 282.1,446.8 279.7,448.0" fill="#43474f" />
<polygon points="279.7,444.6 282.1,443.3 282.1,440.8 279.7,442.1" fill="#43474f" />
<polygon points="279.7,438.6 282.1,437.4 282.1,434.9 279.7,436.1" fill="#43474f" />
<polygon points="279.7,432.7 282.1,431.4 282.1,428.9 279.7,430.2" fill="#43474f" />
<polygon points="279.7,426.7 282.1,425.5 282.1,423.0 279.7,424.2" fill="#43474f" />
<polygon points="279.7,420.8 282.1,419.5 282.1,417.0 279.7,418.3" fill="#43474f" />
<polygon points="286.4,524.3 288.8,523.0 288.8,520.5 286.4,521.8" fill="#43474f" />
<polygon points="286.4,518.3 288.8,517.1 288.8,514.6 286.4,515.8" fill="#43474f" />
<polygon points="286.4,512.4 288.8,511.1 288.8,508.6 286.4,509.9" fill="#43474f" />
<polygon points="286.4,506.4 288.8,505.2 288.8,502.7 286.4,504.0" fill="#43474f" />
<polygon points="286.4,500.5 288.8,499.2 288.8,496.7 286.4,498.0" fill="#43474f" />
<polygon points="286.4,494.6 288.8,493.3 288.8,490.8 286.4,492.1" fill="#43474f" />
<polygon points="286.4,488.6 288.8,487.3 288.8,484.8 286.4,486.1" fill="#43474f" />
<polygon points="286.4,482.7 288.8,481.4 288.8,478.9 286.4,480.2" fill="#43474f" />
<polygon points="286.4,476.7 288.8,475.4 288.8,472.9 286.4,474.2" fill="#43474f" />
<polygon points="286.4,470.8 288.8,469.5 288.8,467.0 286.4,468.3" fill="#43474f" />
<polygon points="286.4,464.8 288.8,463.5 288.8,461.0 286.4,462.3" fill="#43474f" />
<polygon points="286.4,458.9 288.8,457.6 288.8,455.1 286.4,456.4" fill="#43474f" />
<polygon points="286.4,452.9 288.8,451.6 288.8,449.1 286.4,450.4" fill="#43474f" />
<polygon points="286.4,447.0 288.8,445.7 288.8,443.2 286.4,444.5" fill="#43474f" />
<polygon points="286.4,441.0 288.8,439.7 288.8,437.3 286.4,438.5" fill="#43474f" />
<polygon points="286.4,435.1 288.8,433.8 288.8,431.3 286.4,432.6" fill="#43474f" />
<polygon points="286.4,429.1 288.8,427.9 288.8,425.4 286.4,426.6" fill="#43474f" />
<polygon points="286.4,423.2 288.8,421.9 288.8,419.4 286.4,420.7" fill="#43474f" />
<polygon points="286.4,417.2 288.8,416.0 288.8,413.5 286.4,414.7" fill="#43474f" />
<polygon points="293.0,520.7 295.4,519.5 295.4,517.0 293.0,518.2" fill="#43474f" />
<polygon points="293.0,514.8 295.4,513.5 295.4,511.0 293.0,512.3" fill="#43474f" />
<polygon points="293.0,508.8 295.4,507.6 295.4,505.1 293.0,506.3" fill="#43474f" />
<polygon points="293.0,502.9 295.4,501.6 295.4,499.1 293.0,500.4" fill="#43474f" />
<polygon points="293.0,496.9 295.4,495.7 295.4,493.2 293.0,494.5" fill="#43474f" />
<polygon points="293.0,491.0 295.4,489.7 295.4,487.2 293.0,488.5" fill="#43474f" />
<polygon points="293.0,485.1 295.4,483.8 295.4,481.3 293.0,482.6" fill="#43474f" />
<polygon points="293.0,479.1 295.4,477.8 295.4,475.3 293.0,476.6" fill="#43474f" />
<polygon points="293.0,473.2 295.4,471.9 295.4,469.4 293.0,470.7" fill="#43474f" />
<polygon points="293.0,467.2 295.4,465.9 295.4,463.4 293.0,464.7" fill="#43474f" />
<polygon points="293.0,461.3 295.4,460.0 295.4,457.5 293.0,458.8" fill="#43474f" />
<polygon points="293.0,455.3 295.4,454.0 295.4,451.5 293.0,452.8" fill="#43474f" />
<polygon points="293.0,449.4 295.4,448.1 295.4,445.6 293.0,446.9" fill="#43474f" />
<polygon points="293.0,443.4 295.4,442.1 295.4,439.6 293.0,440.9" fill="#43474f" />
<polygon points="293.0,437.5 295.4,436.2 295.4,433.7 293.0,435.0" fill="#43474f" />
<polygon points="293.0,431.5 295.4,430.2 295.4,427.8 293.0,429.0" fill="#43474f" />
<polygon points="293.0,425.6 295.4,424.3 295.4,421.8 293.0,423.1" fill="#43474f" />
<polygon points="293.0,419.6 295.4,418.4 295.4,415.9 293.0,417.1" fill="#43474f" />
<polygon points="293.0,413.7 295.4,412.4 295.4,409.9 293.0,411.2" fill="#43474f" />
<polygon points="299.7,517.2 302.1,515.9 302.1,513.4 299.7,514.7" fill="#43474f" />
<polygon points="299.7,511.2 302.1,510.0 302.1,507.5 299.7,508.7" fill="#43474f" />
<polygon points="299.7,505.3 302.1,504.0 302.1,501.5 299.7,502.8" fill="#43474f" />
<polygon points="299.7,499.3 302.1,498.1 302.1,495.6 299.7,496.8" fill="#43474f" />
<polygon points="299.7,493.4 302.1,492.1 302.1,489.6 299.7,490.9" fill="#43474f" />
<polygon points="299.7,487.4 302.1,486.2 302.1,483.7 299.7,485.0" fill="#43474f" />
<polygon points="299.7,481.5 302.1,480.2 302.1,477.7 299.7,479.0" fill="#43474f" />
<polygon points="299.7,475.6 302.1,474.3 302.1,471.8 299.7,473.1" fill="#43474f" />
<polygon points="299.7,469.6 302.1,468.3 302.1,465.8 299.7,467.1" fill="#43474f" />
<polygon points="299.7,463.7 302.1,462.4 302.1,459.9 299.7,461.2" fill="#43474f" />
<polygon points="299.7,457.7 302.1,456.4 302.1,453.9 299.7,455.2" fill="#43474f" />
<polygon points="299.7,451.8 302.1,450.5 302.1,448.0 299.7,449.3" fill="#43474f" />
<polygon points="299.7,445.8 302.1,444.5 302.1,442.0 299.7,443.3" fill="#43474f" />
<polygon points="299.7,439.9 302.1,438.6 302.1,436.1 299.7,437.4" fill="#43474f" />
<polygon points="299.7,433.9 302.1,432.6 302.1,430.1 299.7,431.4" fill="#43474f" />
<polygon points="299.7,428.0 302.1,426.7 302.1,424.2 299.7,425.5" fill="#43474f" />
<polygon points="299.7,422.0 302.1,420.8 302.1,418.3 299.7,419.5" fill="#43474f" />
<polygon points="299.7,416.1 302.1,414.8 302.1,412.3 299.7,413.6" fill="#43474f" />
<polygon points="299.7,410.1 302.1,408.9 302.1,406.4 299.7,407.6" fill="#43474f" />
<polygon points="279.4,543.3 282.4,541.7 282.4,526.5 279.4,528.1" fill="#34363c" />
<polygon points="286.1,539.8 289.1,538.2 289.1,523.0 286.1,524.6" fill="#34363c" />
<polygon points="292.7,536.2 295.7,534.6 295.7,519.4 292.7,521.0" fill="#34363c" />
<polygon points="299.4,532.7 302.4,531.1 302.4,515.9 299.4,517.5" fill="#34363c" />
<polygon points="250.0,399.6 277.0,414.0 304.8,399.2 277.8,384.8" fill="none" stroke="#f0f0f0" stroke-width="1.2"/>
<ellipse cx="277.5" cy="393" rx="9" ry="4.5" fill="#f2f2f4"/>
<ellipse cx="277.5" cy="394.5" rx="6.5" ry="2.6" fill="#9a9ca2"/>
<polygon points="274.0,392.0 276.5,310.0 278.5,310.0 281.0,392.0" fill="#e2e3e6" />
<polygon points="277.8,392.0 277.8,310.0 278.5,310.0 281.0,392.0" fill="#a4a6ac" />
<polygon points="275.9,355.0 279.1,355.0 279.7,362.0 275.3,362.0" fill="#8c8e94" />
<polygon points="468.0,459.0 500.3,474.0 533.0,457.0 500.3,441.0" fill="#2c2e33" stroke="#f2f2f2" stroke-width="1.2"/>
<polygon points="477.2,450.1 500.3,461.0 500.3,344.5 477.2,333.6" fill="#e2ecf6" />
<polygon points="500.3,461.0 523.4,450.1 523.4,333.6 500.3,344.5" fill="#8a93a3" />
<polygon points="477.2,333.6 500.3,344.5 523.4,333.6 500.3,322.7" fill="#393c44" />
<polygon points="479.1,422.9 488.2,427.2 488.2,410.3 479.1,406.0" fill="#a9c9ec" />
<polygon points="479.1,401.8 488.2,406.1 488.2,389.2 479.1,384.9" fill="#a9c9ec" />
<polygon points="479.1,380.6 488.2,384.9 488.2,368.0 479.1,363.7" fill="#a9c9ec" />
<polygon points="479.1,359.5 488.2,363.8 488.2,346.9 479.1,342.6" fill="#a9c9ec" />
<polygon points="489.3,427.7 498.4,432.0 498.4,415.1 489.3,410.8" fill="#a9c9ec" />
<polygon points="489.3,406.6 498.4,410.9 498.4,394.0 489.3,389.7" fill="#a9c9ec" />
<polygon points="489.3,385.4 498.4,389.7 498.4,372.8 489.3,368.5" fill="#a9c9ec" />
<polygon points="489.3,364.3 498.4,368.6 498.4,351.7 489.3,347.4" fill="#a9c9ec" />
<polygon points="479.7,423.5 482.5,424.9 482.5,421.3 479.7,420.0" fill="#5c96da" />
<polygon points="479.7,416.5 482.5,417.8 482.5,414.3 479.7,413.0" fill="#5c96da" />
<polygon points="479.7,409.4 482.5,410.8 482.5,407.2 479.7,405.9" fill="#5c96da" />
<polygon points="479.7,402.4 482.5,403.7 482.5,400.2 479.7,398.9" fill="#5c96da" />
<polygon points="479.7,395.4 482.5,396.7 482.5,393.2 479.7,391.8" fill="#5c96da" />
<polygon points="479.7,388.3 482.5,389.6 482.5,386.1 479.7,384.8" fill="#5c96da" />
<polygon points="479.7,381.3 482.5,382.6 482.5,379.1 479.7,377.8" fill="#5c96da" />
<polygon points="479.7,374.2 482.5,375.6 482.5,372.0 479.7,370.7" fill="#5c96da" />
<polygon points="479.7,367.2 482.5,368.5 482.5,365.0 479.7,363.7" fill="#5c96da" />
<polygon points="479.7,360.2 482.5,361.5 482.5,358.0 479.7,356.6" fill="#5c96da" />
<polygon points="479.7,353.1 482.5,354.4 482.5,350.9 479.7,349.6" fill="#5c96da" />
<polygon points="479.7,346.1 482.5,347.4 482.5,343.9 479.7,342.6" fill="#5c96da" />
<polygon points="484.8,425.9 487.6,427.3 487.6,423.7 484.8,422.4" fill="#5c96da" />
<polygon points="484.8,418.9 487.6,420.2 487.6,416.7 484.8,415.4" fill="#5c96da" />
<polygon points="484.8,411.8 487.6,413.2 487.6,409.6 484.8,408.3" fill="#5c96da" />
<polygon points="484.8,404.8 487.6,406.1 487.6,402.6 484.8,401.3" fill="#5c96da" />
<polygon points="484.8,397.8 487.6,399.1 487.6,395.6 484.8,394.2" fill="#5c96da" />
<polygon points="484.8,390.7 487.6,392.0 487.6,388.5 484.8,387.2" fill="#5c96da" />
<polygon points="484.8,383.7 487.6,385.0 487.6,381.5 484.8,380.2" fill="#5c96da" />
<polygon points="484.8,376.6 487.6,378.0 487.6,374.4 484.8,373.1" fill="#5c96da" />
<polygon points="484.8,369.6 487.6,370.9 487.6,367.4 484.8,366.1" fill="#5c96da" />
<polygon points="484.8,362.6 487.6,363.9 487.6,360.4 484.8,359.0" fill="#5c96da" />
<polygon points="484.8,355.5 487.6,356.8 487.6,353.3 484.8,352.0" fill="#5c96da" />
<polygon points="484.8,348.5 487.6,349.8 487.6,346.3 484.8,345.0" fill="#5c96da" />
<polygon points="489.9,428.3 492.7,429.6 492.7,426.1 489.9,424.8" fill="#5c96da" />
<polygon points="489.9,421.3 492.7,422.6 492.7,419.1 489.9,417.8" fill="#5c96da" />
<polygon points="489.9,414.2 492.7,415.6 492.7,412.0 489.9,410.7" fill="#5c96da" />
<polygon points="489.9,407.2 492.7,408.5 492.7,405.0 489.9,403.7" fill="#5c96da" />
<polygon points="489.9,400.2 492.7,401.5 492.7,398.0 489.9,396.6" fill="#5c96da" />
<polygon points="489.9,393.1 492.7,394.4 492.7,390.9 489.9,389.6" fill="#5c96da" />
<polygon points="489.9,386.1 492.7,387.4 492.7,383.9 489.9,382.6" fill="#5c96da" />
<polygon points="489.9,379.0 492.7,380.4 492.7,376.8 489.9,375.5" fill="#5c96da" />
<polygon points="489.9,372.0 492.7,373.3 492.7,369.8 489.9,368.5" fill="#5c96da" />
<polygon points="489.9,365.0 492.7,366.3 492.7,362.8 489.9,361.4" fill="#5c96da" />
<polygon points="489.9,357.9 492.7,359.2 492.7,355.7 489.9,354.4" fill="#5c96da" />
<polygon points="489.9,350.9 492.7,352.2 492.7,348.7 489.9,347.3" fill="#5c96da" />
<polygon points="495.0,430.7 497.8,432.0 497.8,428.5 495.0,427.2" fill="#5c96da" />
<polygon points="495.0,423.7 497.8,425.0 497.8,421.5 495.0,420.2" fill="#5c96da" />
<polygon points="495.0,416.6 497.8,418.0 497.8,414.4 495.0,413.1" fill="#5c96da" />
<polygon points="495.0,409.6 497.8,410.9 497.8,407.4 495.0,406.1" fill="#5c96da" />
<polygon points="495.0,402.6 497.8,403.9 497.8,400.4 495.0,399.0" fill="#5c96da" />
<polygon points="495.0,395.5 497.8,396.8 497.8,393.3 495.0,392.0" fill="#5c96da" />
<polygon points="495.0,388.5 497.8,389.8 497.8,386.3 495.0,385.0" fill="#5c96da" />
<polygon points="495.0,381.4 497.8,382.8 497.8,379.2 495.0,377.9" fill="#5c96da" />
<polygon points="495.0,374.4 497.8,375.7 497.8,372.2 495.0,370.9" fill="#5c96da" />
<polygon points="495.0,367.4 497.8,368.7 497.8,365.2 495.0,363.8" fill="#5c96da" />
<polygon points="495.0,360.3 497.8,361.6 497.8,358.1 495.0,356.8" fill="#5c96da" />
<polygon points="495.0,353.3 497.8,354.6 497.8,351.1 495.0,349.7" fill="#5c96da" />
<polygon points="502.2,432.0 511.3,427.7 511.3,410.8 502.2,415.1" fill="#6a7ca2" />
<polygon points="502.2,410.9 511.3,406.6 511.3,389.7 502.2,394.0" fill="#6a7ca2" />
<polygon points="502.2,389.7 511.3,385.4 511.3,368.5 502.2,372.8" fill="#6a7ca2" />
<polygon points="502.2,368.6 511.3,364.3 511.3,347.4 502.2,351.7" fill="#6a7ca2" />
<polygon points="512.4,427.2 521.5,422.9 521.5,406.0 512.4,410.3" fill="#6a7ca2" />
<polygon points="512.4,406.1 521.5,401.8 521.5,384.9 512.4,389.2" fill="#6a7ca2" />
<polygon points="512.4,384.9 521.5,380.6 521.5,363.7 512.4,368.0" fill="#6a7ca2" />
<polygon points="512.4,363.8 521.5,359.5 521.5,342.6 512.4,346.9" fill="#6a7ca2" />
<polygon points="502.8,432.0 505.6,430.7 505.6,427.2 502.8,428.5" fill="#3560bc" />
<polygon points="502.8,425.0 505.6,423.7 505.6,420.2 502.8,421.5" fill="#3560bc" />
<polygon points="502.8,418.0 505.6,416.6 505.6,413.1 502.8,414.4" fill="#3560bc" />
<polygon points="502.8,410.9 505.6,409.6 505.6,406.1 502.8,407.4" fill="#3560bc" />
<polygon points="502.8,403.9 505.6,402.6 505.6,399.0 502.8,400.4" fill="#3560bc" />
<polygon points="502.8,396.8 505.6,395.5 505.6,392.0 502.8,393.3" fill="#3560bc" />
<polygon points="502.8,389.8 505.6,388.5 505.6,385.0 502.8,386.3" fill="#3560bc" />
<polygon points="502.8,382.8 505.6,381.4 505.6,377.9 502.8,379.2" fill="#3560bc" />
<polygon points="502.8,375.7 505.6,374.4 505.6,370.9 502.8,372.2" fill="#3560bc" />
<polygon points="502.8,368.7 505.6,367.4 505.6,363.8 502.8,365.2" fill="#3560bc" />
<polygon points="502.8,361.6 505.6,360.3 505.6,356.8 502.8,358.1" fill="#3560bc" />
<polygon points="502.8,354.6 505.6,353.3 505.6,349.7 502.8,351.1" fill="#3560bc" />
<polygon points="507.9,429.6 510.7,428.3 510.7,424.8 507.9,426.1" fill="#3560bc" />
<polygon points="507.9,422.6 510.7,421.3 510.7,417.8 507.9,419.1" fill="#3560bc" />
<polygon points="507.9,415.6 510.7,414.2 510.7,410.7 507.9,412.0" fill="#3560bc" />
<polygon points="507.9,408.5 510.7,407.2 510.7,403.7 507.9,405.0" fill="#3560bc" />
<polygon points="507.9,401.5 510.7,400.2 510.7,396.6 507.9,398.0" fill="#3560bc" />
<polygon points="507.9,394.4 510.7,393.1 510.7,389.6 507.9,390.9" fill="#3560bc" />
<polygon points="507.9,387.4 510.7,386.1 510.7,382.6 507.9,383.9" fill="#3560bc" />
<polygon points="507.9,380.4 510.7,379.0 510.7,375.5 507.9,376.8" fill="#3560bc" />
<polygon points="507.9,373.3 510.7,372.0 510.7,368.5 507.9,369.8" fill="#3560bc" />
<polygon points="507.9,366.3 510.7,365.0 510.7,361.4 507.9,362.8" fill="#3560bc" />
<polygon points="507.9,359.2 510.7,357.9 510.7,354.4 507.9,355.7" fill="#3560bc" />
<polygon points="507.9,352.2 510.7,350.9 510.7,347.3 507.9,348.7" fill="#3560bc" />
<polygon points="513.0,427.3 515.8,425.9 515.8,422.4 513.0,423.7" fill="#3560bc" />
<polygon points="513.0,420.2 515.8,418.9 515.8,415.4 513.0,416.7" fill="#3560bc" />
<polygon points="513.0,413.2 515.8,411.8 515.8,408.3 513.0,409.6" fill="#3560bc" />
<polygon points="513.0,406.1 515.8,404.8 515.8,401.3 513.0,402.6" fill="#3560bc" />
<polygon points="513.0,399.1 515.8,397.8 515.8,394.2 513.0,395.6" fill="#3560bc" />
<polygon points="513.0,392.0 515.8,390.7 515.8,387.2 513.0,388.5" fill="#3560bc" />
<polygon points="513.0,385.0 515.8,383.7 515.8,380.2 513.0,381.5" fill="#3560bc" />
<polygon points="513.0,378.0 515.8,376.6 515.8,373.1 513.0,374.4" fill="#3560bc" />
<polygon points="513.0,370.9 515.8,369.6 515.8,366.1 513.0,367.4" fill="#3560bc" />
<polygon points="513.0,363.9 515.8,362.6 515.8,359.0 513.0,360.4" fill="#3560bc" />
<polygon points="513.0,356.8 515.8,355.5 515.8,352.0 513.0,353.3" fill="#3560bc" />
<polygon points="513.0,349.8 515.8,348.5 515.8,345.0 513.0,346.3" fill="#3560bc" />
<polygon points="518.1,424.9 520.9,423.5 520.9,420.0 518.1,421.3" fill="#3560bc" />
<polygon points="518.1,417.8 520.9,416.5 520.9,413.0 518.1,414.3" fill="#3560bc" />
<polygon points="518.1,410.8 520.9,409.4 520.9,405.9 518.1,407.2" fill="#3560bc" />
<polygon points="518.1,403.7 520.9,402.4 520.9,398.9 518.1,400.2" fill="#3560bc" />
<polygon points="518.1,396.7 520.9,395.4 520.9,391.8 518.1,393.2" fill="#3560bc" />
<polygon points="518.1,389.6 520.9,388.3 520.9,384.8 518.1,386.1" fill="#3560bc" />
<polygon points="518.1,382.6 520.9,381.3 520.9,377.8 518.1,379.1" fill="#3560bc" />
<polygon points="518.1,375.6 520.9,374.2 520.9,370.7 518.1,372.0" fill="#3560bc" />
<polygon points="518.1,368.5 520.9,367.2 520.9,363.7 518.1,365.0" fill="#3560bc" />
<polygon points="518.1,361.5 520.9,360.2 520.9,356.6 518.1,358.0" fill="#3560bc" />
<polygon points="518.1,354.4 520.9,353.1 520.9,349.6 518.1,350.9" fill="#3560bc" />
<polygon points="518.1,347.4 520.9,346.1 520.9,342.6 518.1,343.9" fill="#3560bc" />
<polygon points="503.0,459.1 506.5,457.5 506.5,434.7 503.0,436.3" fill="#3c3f46" />
<polygon points="510.1,455.8 513.6,454.1 513.6,431.3 510.1,433.0" fill="#3c3f46" />
<polygon points="517.2,452.4 520.7,450.8 520.7,428.0 517.2,429.6" fill="#3c3f46" />
<polygon points="484.1,451.4 494.5,456.3 494.5,438.3 484.1,433.4" fill="#2a46a8" />
<polygon points="489.9,456.1 498.0,459.9 498.0,454.9 489.9,451.1" fill="#d02a2a" />
<polygon points="486.0,333.0 494.0,329.0 502.0,333.0 494.0,337.0" fill="#d8dadd" />
<polygon points="496.0,338.0 504.0,334.0 511.0,337.5 503.0,341.5" fill="#c8cace" />
<polygon points="518.0,480.0 551.9,496.0 586.0,479.0 551.9,463.0" fill="#2c2e33" stroke="#f2f2f2" stroke-width="1.2"/>
<polygon points="528.8,470.1 551.9,481.0 551.9,368.0 528.8,357.1" fill="#e3e4e6" />
<polygon points="551.9,481.0 575.0,470.1 575.0,357.1 551.9,368.0" fill="#a3a7ae" />
<polygon points="528.8,357.1 551.9,368.0 575.0,357.1 551.9,346.2" fill="#3c3e45" />
<polygon points="530.6,453.0 531.9,453.6 531.9,362.6 530.6,362.0" fill="#6e727a" />
<polygon points="533.6,454.4 534.9,455.0 534.9,364.0 533.6,363.4" fill="#6e727a" />
<polygon points="536.7,455.8 538.0,456.4 538.0,365.4 536.7,364.8" fill="#6e727a" />
<polygon points="539.7,457.2 541.0,457.9 541.0,366.9 539.7,366.2" fill="#6e727a" />
<polygon points="542.7,458.7 544.0,459.3 544.0,368.3 542.7,367.7" fill="#6e727a" />
<polygon points="545.8,460.1 547.1,460.7 547.1,369.7 545.8,369.1" fill="#6e727a" />
<polygon points="548.8,461.5 550.1,462.1 550.1,371.1 548.8,370.5" fill="#6e727a" />
<polygon points="553.7,462.1 555.0,461.5 555.0,370.5 553.7,371.1" fill="#555961" />
<polygon points="556.7,460.7 558.0,460.1 558.0,369.1 556.7,369.7" fill="#555961" />
<polygon points="559.8,459.3 561.1,458.7 561.1,367.7 559.8,368.3" fill="#555961" />
<polygon points="562.8,457.9 564.1,457.2 564.1,366.2 562.8,366.9" fill="#555961" />
<polygon points="565.8,456.4 567.1,455.8 567.1,364.8 565.8,365.4" fill="#555961" />
<polygon points="568.9,455.0 570.2,454.4 570.2,363.4 568.9,364.0" fill="#555961" />
<polygon points="571.9,453.6 573.2,453.0 573.2,362.0 571.9,362.6" fill="#555961" />
<polygon points="530.8,467.6 532.9,468.6 532.9,464.4 530.8,463.4" fill="#80848c" />
<polygon points="530.8,460.6 532.9,461.6 532.9,457.4 530.8,456.4" fill="#80848c" />
<polygon points="535.0,469.6 537.2,470.6 537.2,466.4 535.0,465.4" fill="#80848c" />
<polygon points="535.0,462.6 537.2,463.6 537.2,459.4 535.0,458.4" fill="#80848c" />
<polygon points="539.3,471.6 541.4,472.7 541.4,468.5 539.3,467.4" fill="#80848c" />
<polygon points="539.3,464.6 541.4,465.7 541.4,461.5 539.3,460.4" fill="#80848c" />
<polygon points="543.5,473.7 545.7,474.7 545.7,470.5 543.5,469.5" fill="#80848c" />
<polygon points="543.5,466.7 545.7,467.7 545.7,463.5 543.5,462.5" fill="#80848c" />
<polygon points="547.8,475.7 549.9,476.7 549.9,472.5 547.8,471.5" fill="#80848c" />
<polygon points="547.8,468.7 549.9,469.7 549.9,465.5 547.8,464.5" fill="#80848c" />
<polygon points="536.0,355.0 551.0,347.0 566.0,355.0 551.0,363.0" fill="none" stroke="#8a8c92" stroke-width="1"/>
<polygon points="579.0,500.0 608.3,514.5 639.0,499.5 608.3,485.0" fill="#2c2e33" stroke="#f2f2f2" stroke-width="1.2"/>
<polygon points="582.3,490.5 608.3,503.0 608.3,378.4 582.3,365.9" fill="#eef2f7" />
<polygon points="608.3,503.0 633.3,491.0 633.3,366.4 608.3,378.4" fill="#a2a7af" />
<polygon points="582.3,365.9 608.3,378.4 633.3,366.4 607.3,353.9" fill="#393b42" />
<polygon points="587.0,482.8 590.1,484.2 590.1,377.6 587.0,376.1" fill="#5aa8e4" />
<polygon points="598.4,488.2 601.5,489.8 601.5,383.1 598.4,381.6" fill="#5aa8e4" />
<polygon points="610.2,494.9 614.2,492.9 614.2,487.2 610.2,489.1" fill="#c4c8ce" />
<polygon points="610.2,486.7 614.2,484.8 614.2,479.0 610.2,481.0" fill="#c4c8ce" />
<polygon points="610.2,478.5 614.2,476.6 614.2,470.8 610.2,472.8" fill="#c4c8ce" />
<polygon points="610.2,470.3 614.2,468.4 614.2,462.7 610.2,464.6" fill="#c4c8ce" />
<polygon points="610.2,462.1 614.2,460.2 614.2,454.5 610.2,456.4" fill="#c4c8ce" />
<polygon points="610.2,453.9 614.2,452.0 614.2,446.3 610.2,448.2" fill="#c4c8ce" />
<polygon points="610.2,445.8 614.2,443.8 614.2,438.1 610.2,440.0" fill="#c4c8ce" />
<polygon points="610.2,437.6 614.2,435.6 614.2,429.9 610.2,431.8" fill="#c4c8ce" />
<polygon points="610.2,429.4 614.2,427.5 614.2,421.7 610.2,423.7" fill="#c4c8ce" />
<polygon points="610.2,421.2 614.2,419.3 614.2,413.5 610.2,415.5" fill="#c4c8ce" />
<polygon points="610.2,413.0 614.2,411.1 614.2,405.4 610.2,407.3" fill="#c4c8ce" />
<polygon points="610.2,404.8 614.2,402.9 614.2,397.2 610.2,399.1" fill="#c4c8ce" />
<polygon points="610.2,396.6 614.2,394.7 614.2,389.0 610.2,390.9" fill="#c4c8ce" />
<polygon points="610.2,388.5 614.2,386.5 614.2,380.8 610.2,382.7" fill="#c4c8ce" />
<polygon points="615.9,492.1 619.9,490.2 619.9,484.5 615.9,486.4" fill="#c4c8ce" />
<polygon points="615.9,483.9 619.9,482.0 619.9,476.3 615.9,478.2" fill="#c4c8ce" />
<polygon points="615.9,475.7 619.9,473.8 619.9,468.1 615.9,470.0" fill="#c4c8ce" />
<polygon points="615.9,467.6 619.9,465.6 619.9,459.9 615.9,461.8" fill="#c4c8ce" />
<polygon points="615.9,459.4 619.9,457.4 619.9,451.7 615.9,453.6" fill="#c4c8ce" />
<polygon points="615.9,451.2 619.9,449.3 619.9,443.5 615.9,445.5" fill="#c4c8ce" />
<polygon points="615.9,443.0 619.9,441.1 619.9,435.3 615.9,437.3" fill="#c4c8ce" />
<polygon points="615.9,434.8 619.9,432.9 619.9,427.2 615.9,429.1" fill="#c4c8ce" />
<polygon points="615.9,426.6 619.9,424.7 619.9,419.0 615.9,420.9" fill="#c4c8ce" />
<polygon points="615.9,418.4 619.9,416.5 619.9,410.8 615.9,412.7" fill="#c4c8ce" />
<polygon points="615.9,410.3 619.9,408.3 619.9,402.6 615.9,404.5" fill="#c4c8ce" />
<polygon points="615.9,402.1 619.9,400.1 619.9,394.4 615.9,396.3" fill="#c4c8ce" />
<polygon points="615.9,393.9 619.9,392.0 619.9,386.2 615.9,388.2" fill="#c4c8ce" />
<polygon points="615.9,385.7 619.9,383.8 619.9,378.0 615.9,380.0" fill="#c4c8ce" />
<polygon points="621.7,489.4 625.7,487.4 625.7,481.7 621.7,483.6" fill="#c4c8ce" />
<polygon points="621.7,481.2 625.7,479.2 625.7,473.5 621.7,475.4" fill="#c4c8ce" />
<polygon points="621.7,473.0 625.7,471.1 625.7,465.3 621.7,467.3" fill="#c4c8ce" />
<polygon points="621.7,464.8 625.7,462.9 625.7,457.1 621.7,459.1" fill="#c4c8ce" />
<polygon points="621.7,456.6 625.7,454.7 625.7,449.0 621.7,450.9" fill="#c4c8ce" />
<polygon points="621.7,448.4 625.7,446.5 625.7,440.8 621.7,442.7" fill="#c4c8ce" />
<polygon points="621.7,440.2 625.7,438.3 625.7,432.6 621.7,434.5" fill="#c4c8ce" />
<polygon points="621.7,432.1 625.7,430.1 625.7,424.4 621.7,426.3" fill="#c4c8ce" />
<polygon points="621.7,423.9 625.7,421.9 625.7,416.2 621.7,418.1" fill="#c4c8ce" />
<polygon points="621.7,415.7 625.7,413.8 625.7,408.0 621.7,410.0" fill="#c4c8ce" />
<polygon points="621.7,407.5 625.7,405.6 625.7,399.8 621.7,401.8" fill="#c4c8ce" />
<polygon points="621.7,399.3 625.7,397.4 625.7,391.7 621.7,393.6" fill="#c4c8ce" />
<polygon points="621.7,391.1 625.7,389.2 625.7,383.5 621.7,385.4" fill="#c4c8ce" />
<polygon points="621.7,382.9 625.7,381.0 625.7,375.3 621.7,377.2" fill="#c4c8ce" />
<polygon points="627.4,486.6 631.4,484.7 631.4,478.9 627.4,480.9" fill="#c4c8ce" />
<polygon points="627.4,478.4 631.4,476.5 631.4,470.8 627.4,472.7" fill="#c4c8ce" />
<polygon points="627.4,470.2 631.4,468.3 631.4,462.6 627.4,464.5" fill="#c4c8ce" />
<polygon points="627.4,462.0 631.4,460.1 631.4,454.4 627.4,456.3" fill="#c4c8ce" />
<polygon points="627.4,453.9 631.4,451.9 631.4,446.2 627.4,448.1" fill="#c4c8ce" />
<polygon points="627.4,445.7 631.4,443.7 631.4,438.0 627.4,439.9" fill="#c4c8ce" />
<polygon points="627.4,437.5 631.4,435.6 631.4,429.8 627.4,431.8" fill="#c4c8ce" />
<polygon points="627.4,429.3 631.4,427.4 631.4,421.6 627.4,423.6" fill="#c4c8ce" />
<polygon points="627.4,421.1 631.4,419.2 631.4,413.5 627.4,415.4" fill="#c4c8ce" />
<polygon points="627.4,412.9 631.4,411.0 631.4,405.3 627.4,407.2" fill="#c4c8ce" />
<polygon points="627.4,404.7 631.4,402.8 631.4,397.1 627.4,399.0" fill="#c4c8ce" />
<polygon points="627.4,396.6 631.4,394.6 631.4,388.9 627.4,390.8" fill="#c4c8ce" />
<polygon points="627.4,388.4 631.4,386.4 631.4,380.7 627.4,382.6" fill="#c4c8ce" />
<polygon points="627.4,380.2 631.4,378.3 631.4,372.5 627.4,374.5" fill="#c4c8ce" />
<polygon points="617.0,491.6 620.8,489.8 620.8,484.0 617.0,485.8" fill="#2f62c0" />
<polygon points="617.0,483.4 620.8,481.6 620.8,475.9 617.0,477.7" fill="#2f62c0" />
<polygon points="617.0,475.2 620.8,473.4 620.8,467.7 617.0,469.5" fill="#2f62c0" />
<polygon points="617.0,467.0 620.8,465.2 620.8,459.5 617.0,461.3" fill="#2f62c0" />
<polygon points="617.0,458.8 620.8,457.0 620.8,451.3 617.0,453.1" fill="#2f62c0" />
<polygon points="617.0,450.6 620.8,448.8 620.8,443.1 617.0,444.9" fill="#2f62c0" />
<polygon points="617.0,442.5 620.8,440.7 620.8,434.9 617.0,436.7" fill="#2f62c0" />
<polygon points="617.0,434.3 620.8,432.5 620.8,426.7 617.0,428.5" fill="#2f62c0" />
<polygon points="617.0,426.1 620.8,424.3 620.8,418.6 617.0,420.4" fill="#2f62c0" />
<polygon points="617.0,417.9 620.8,416.1 620.8,410.4 617.0,412.2" fill="#2f62c0" />
<polygon points="617.0,409.7 620.8,407.9 620.8,402.2 617.0,404.0" fill="#2f62c0" />
<polygon points="617.0,401.5 620.8,399.7 620.8,394.0 617.0,395.8" fill="#2f62c0" />
<polygon points="617.0,393.3 620.8,391.5 620.8,385.8 617.0,387.6" fill="#2f62c0" />
<polygon points="617.0,385.2 620.8,383.4 620.8,377.6 617.0,379.4" fill="#2f62c0" />
<polygon points="623.3,488.6 627.0,486.8 627.0,481.0 623.3,482.8" fill="#2f62c0" />
<polygon points="623.3,480.4 627.0,478.6 627.0,472.9 623.3,474.7" fill="#2f62c0" />
<polygon points="623.3,472.2 627.0,470.4 627.0,464.7 623.3,466.5" fill="#2f62c0" />
<polygon points="623.3,464.0 627.0,462.2 627.0,456.5 623.3,458.3" fill="#2f62c0" />
<polygon points="623.3,455.8 627.0,454.0 627.0,448.3 623.3,450.1" fill="#2f62c0" />
<polygon points="623.3,447.6 627.0,445.8 627.0,440.1 623.3,441.9" fill="#2f62c0" />
<polygon points="623.3,439.5 627.0,437.7 627.0,431.9 623.3,433.7" fill="#2f62c0" />
<polygon points="623.3,431.3 627.0,429.5 627.0,423.7 623.3,425.5" fill="#2f62c0" />
<polygon points="623.3,423.1 627.0,421.3 627.0,415.6 623.3,417.4" fill="#2f62c0" />
<polygon points="623.3,414.9 627.0,413.1 627.0,407.4 623.3,409.2" fill="#2f62c0" />
<polygon points="623.3,406.7 627.0,404.9 627.0,399.2 623.3,401.0" fill="#2f62c0" />
<polygon points="623.3,398.5 627.0,396.7 627.0,391.0 623.3,392.8" fill="#2f62c0" />
<polygon points="623.3,390.3 627.0,388.5 627.0,382.8 623.3,384.6" fill="#2f62c0" />
<polygon points="623.3,382.2 627.0,380.4 627.0,374.6 623.3,376.4" fill="#2f62c0" />
<polygon points="595.3,366.8 607.7,373.0 607.7,348.5 595.3,342.3" fill="#cfe0ee" />
<polygon points="607.7,373.0 620.6,367.1 620.6,342.6 607.7,348.5" fill="#8b9097" />
<polygon points="595.3,342.3 607.7,348.5 620.6,342.6 608.2,336.4" fill="#393b42" />
<polygon points="608.9,369.7 611.6,368.5 611.6,365.0 608.9,366.2" fill="#a9aeb6" />
<polygon points="608.9,364.7 611.6,363.5 611.6,360.0 608.9,361.2" fill="#a9aeb6" />
<polygon points="608.9,359.7 611.6,358.5 611.6,355.0 608.9,356.2" fill="#a9aeb6" />
<polygon points="608.9,354.7 611.6,353.5 611.6,350.0 608.9,351.2" fill="#a9aeb6" />
<polygon points="612.8,367.9 615.5,366.7 615.5,363.2 612.8,364.4" fill="#a9aeb6" />
<polygon points="612.8,362.9 615.5,361.7 615.5,358.2 612.8,359.4" fill="#a9aeb6" />
<polygon points="612.8,357.9 615.5,356.7 615.5,353.2 612.8,354.4" fill="#a9aeb6" />
<polygon points="612.8,352.9 615.5,351.7 615.5,348.2 612.8,349.4" fill="#a9aeb6" />
<polygon points="616.7,366.1 619.4,364.9 619.4,361.4 616.7,362.6" fill="#a9aeb6" />
<polygon points="616.7,361.1 619.4,359.9 619.4,356.4 616.7,357.6" fill="#a9aeb6" />
<polygon points="616.7,356.1 619.4,354.9 619.4,351.4 616.7,352.6" fill="#a9aeb6" />
<polygon points="616.7,351.1 619.4,349.9 619.4,346.4 616.7,347.6" fill="#a9aeb6" />
<polygon points="606.1,346.0 606.1,309.0 609.3,309.0 609.3,346.0" fill="#7d8087" />
<polygon points="606.1,324.0 606.1,313.0 609.3,313.0 609.3,324.0" fill="#e02a2a" />
<polygon points="606.1,330.0 606.1,324.0 609.3,324.0 609.3,330.0" fill="#f4f4f4" />
<polygon points="606.1,316.0 606.1,313.0 609.3,313.0 609.3,316.0" fill="#e02a2a" />
<polygon points="410.5,515.0 428.3,505.0 428.3,427.5 410.5,437.4" fill="#c9def0" />
<polygon points="410.5,437.4 428.3,427.5 421.0,423.5 410.5,419.0" fill="#c4b89a" />
<polygon points="367.5,519.5 383.3,528.3 383.3,430.8 367.5,421.0" fill="#b7d1e8" />
<polygon points="383.3,528.3 410.5,513.5 410.5,416.0 383.3,430.8" fill="#c6dcf0" />
<polygon points="367.5,421.0 383.3,430.8 410.5,416.0 394.5,406.5" fill="#c8bea2" />
<polyline points="367.5,421 383.3,430.8 410.5,416" fill="none" stroke="#efe6d8" stroke-width="1.3"/>
<polygon points="365.5,490.0 383.3,500.0 428.5,475.5 428.5,473.0 383.3,497.5 365.5,487.5" fill="#e8dccc" />
<polygon points="387.2,488.1 390.3,486.4 390.3,482.3 387.2,484.0" fill="#5fb0dc" />
<polygon points="387.2,479.8 390.3,478.1 390.3,474.0 387.2,475.7" fill="#5fb0dc" />
<polygon points="387.2,471.5 390.3,469.9 390.3,465.7 387.2,467.4" fill="#5fb0dc" />
<polygon points="387.2,463.3 390.3,461.6 390.3,457.4 387.2,459.1" fill="#5fb0dc" />
<polygon points="387.2,455.0 390.3,453.3 390.3,449.1 387.2,450.8" fill="#5fb0dc" />
<polygon points="387.2,446.7 390.3,445.0 390.3,440.9 387.2,442.5" fill="#5fb0dc" />
<polygon points="387.2,438.4 390.3,436.7 390.3,432.6 387.2,434.3" fill="#5fb0dc" />
<polygon points="395.3,483.7 398.5,482.0 398.5,477.8 395.3,479.5" fill="#5fb0dc" />
<polygon points="395.3,475.4 398.5,473.7 398.5,469.6 395.3,471.2" fill="#5fb0dc" />
<polygon points="395.3,467.1 398.5,465.4 398.5,461.3 395.3,463.0" fill="#5fb0dc" />
<polygon points="395.3,458.8 398.5,457.1 398.5,453.0 395.3,454.7" fill="#5fb0dc" />
<polygon points="395.3,450.5 398.5,448.8 398.5,444.7 395.3,446.4" fill="#5fb0dc" />
<polygon points="395.3,442.2 398.5,440.6 398.5,436.4 395.3,438.1" fill="#5fb0dc" />
<polygon points="395.3,434.0 398.5,432.3 398.5,428.1 395.3,429.8" fill="#5fb0dc" />
<polygon points="403.5,479.2 406.6,477.5 406.6,473.4 403.5,475.1" fill="#5fb0dc" />
<polygon points="403.5,470.9 406.6,469.3 406.6,465.1 403.5,466.8" fill="#5fb0dc" />
<polygon points="403.5,462.7 406.6,461.0 406.6,456.8 403.5,458.5" fill="#5fb0dc" />
<polygon points="403.5,454.4 406.6,452.7 406.6,448.5 403.5,450.2" fill="#5fb0dc" />
<polygon points="403.5,446.1 406.6,444.4 406.6,440.3 403.5,441.9" fill="#5fb0dc" />
<polygon points="403.5,437.8 406.6,436.1 406.6,432.0 403.5,433.7" fill="#5fb0dc" />
<polygon points="403.5,429.5 406.6,427.8 406.6,423.7 403.5,425.4" fill="#5fb0dc" />
<polygon points="387.2,516.9 390.3,515.2 390.3,508.7 387.2,510.4" fill="#5fb0dc" />
<polygon points="387.2,503.9 390.3,502.2 390.3,495.7 387.2,497.4" fill="#5fb0dc" />
<polygon points="395.3,512.5 398.5,510.8 398.5,504.3 395.3,506.0" fill="#5fb0dc" />
<polygon points="395.3,499.5 398.5,497.8 398.5,491.3 395.3,493.0" fill="#5fb0dc" />
<polygon points="403.5,508.1 406.6,506.4 406.6,499.9 403.5,501.6" fill="#5fb0dc" />
<polygon points="403.5,495.1 406.6,493.4 406.6,486.9 403.5,488.6" fill="#5fb0dc" />
<polygon points="413.9,503.4 416.9,501.7 416.9,497.2 413.9,498.9" fill="#5fb0dc" />
<polygon points="413.9,494.4 416.9,492.7 416.9,488.2 413.9,489.9" fill="#5fb0dc" />
<polygon points="413.9,485.4 416.9,483.7 416.9,479.2 413.9,480.9" fill="#5fb0dc" />
<polygon points="413.9,476.4 416.9,474.7 416.9,470.2 413.9,471.9" fill="#5fb0dc" />
<polygon points="413.9,467.4 416.9,465.7 416.9,461.2 413.9,462.9" fill="#5fb0dc" />
<polygon points="413.9,458.4 416.9,456.7 416.9,452.2 413.9,453.9" fill="#5fb0dc" />
<polygon points="413.9,449.4 416.9,447.7 416.9,443.2 413.9,444.9" fill="#5fb0dc" />
<polygon points="413.9,440.4 416.9,438.7 416.9,434.2 413.9,435.9" fill="#5fb0dc" />
<polygon points="421.9,498.9 424.9,497.2 424.9,492.7 421.9,494.4" fill="#5fb0dc" />
<polygon points="421.9,489.9 424.9,488.2 424.9,483.7 421.9,485.4" fill="#5fb0dc" />
<polygon points="421.9,480.9 424.9,479.2 424.9,474.7 421.9,476.4" fill="#5fb0dc" />
<polygon points="421.9,471.9 424.9,470.2 424.9,465.7 421.9,467.4" fill="#5fb0dc" />
<polygon points="421.9,462.9 424.9,461.2 424.9,456.7 421.9,458.4" fill="#5fb0dc" />
<polygon points="421.9,453.9 424.9,452.2 424.9,447.7 421.9,449.4" fill="#5fb0dc" />
<polygon points="421.9,444.9 424.9,443.2 424.9,438.7 421.9,440.4" fill="#5fb0dc" />
<polygon points="421.9,435.9 424.9,434.2 424.9,429.7 421.9,431.4" fill="#5fb0dc" />
<polygon points="395.5,521.6 399.1,519.7 399.1,505.7 395.5,507.6" fill="#e0c0a8" />
<polygon points="329.0,535.0 332.5,536.0 335.0,510.1 329.5,510.1" fill="#6a9ad8" />
<polygon points="335.5,534.0 339.5,533.0 340.5,510.1 335.0,510.1" fill="#6a9ad8" />
<polygon points="329.0,511.2 341.0,511.2 341.5,495.0 338.0,492.8 332.0,492.8 328.5,495.0" fill="#eef1f7" />
<polygon points="328.5,495.0 330.5,495.0 330.2,512.2 328.2,512.2" fill="#eef1f7" />
<polygon points="339.5,495.0 341.5,495.0 341.8,512.2 339.8,512.2" fill="#eef1f7" />
<circle cx="329.2" cy="513.3" r="1.2" fill="#f1b9a0"/>
<circle cx="340.8" cy="513.3" r="1.2" fill="#f1b9a0"/>
<ellipse cx="335.0" cy="488.5" rx="3.6" ry="4.2" fill="#f1b9a0"/>
<path d="M331.0,488.5 a4,4.4 0 0 1 8,0 l-1,-0.5 a3,3 0 0 0 -6,0z" fill="#3a62ae"/>
<rect x="447.0" y="507.5" width="1.8" height="13.0" fill="#f1b9a0"/>
<rect x="450.3" y="507.5" width="1.8" height="13.0" fill="#f1b9a0"/>
<polygon points="444.5,507.5 454.5,507.5 453.5,497.2 445.5,497.2" fill="#5a67b2" />
<polygon points="443.5,499.1 455.5,499.1 456.0,485.2 452.5,483.3 446.5,483.3 443.0,485.2" fill="#e8eef8" />
<polygon points="443.0,485.2 445.0,485.2 444.7,500.0 442.7,500.0" fill="#e8eef8" />
<polygon points="454.0,485.2 456.0,485.2 456.3,500.0 454.3,500.0" fill="#e8eef8" />
<circle cx="443.7" cy="501.0" r="1.2" fill="#f1b9a0"/>
<circle cx="455.3" cy="501.0" r="1.2" fill="#f1b9a0"/>
<ellipse cx="449.5" cy="479.6" rx="3.6" ry="4.2" fill="#f1b9a0"/>
<path d="M445.5,479.6 a4,4.4 0 0 1 8,0 l-1,-0.5 a3,3 0 0 0 -6,0z" fill="#2e2e34"/>
<polygon points="470.5,490.4 474.0,491.4 476.5,466.9 471.0,466.9" fill="#6a82c2" />
<polygon points="477.0,489.4 481.0,488.4 482.0,466.9 476.5,466.9" fill="#6a82c2" />
<polygon points="470.5,467.9 482.5,467.9 483.0,452.6 479.5,450.6 473.5,450.6 470.0,452.6" fill="#e4ecf6" />
<polygon points="470.0,452.6 472.0,452.6 471.7,469.0 469.7,469.0" fill="#e4ecf6" />
<polygon points="481.0,452.6 483.0,452.6 483.3,469.0 481.3,469.0" fill="#e4ecf6" />
<circle cx="470.7" cy="470.0" r="1.2" fill="#f1b9a0"/>
<circle cx="482.3" cy="470.0" r="1.2" fill="#f1b9a0"/>
<ellipse cx="476.5" cy="446.5" rx="3.6" ry="4.2" fill="#f1b9a0"/>
<path d="M472.5,446.5 a4,4.4 0 0 1 8,0 l-1,-0.5 a3,3 0 0 0 -6,0z" fill="#3a3a40"/>
<polygon points="491.5,536.0 495.0,537.0 497.5,513.2 492.0,513.2" fill="#5a72b6" />
<polygon points="498.0,535.0 502.0,534.0 503.0,513.2 497.5,513.2" fill="#5a72b6" />
<polygon points="491.5,514.2 503.5,514.2 504.0,499.4 500.5,497.4 494.5,497.4 491.0,499.4" fill="#e8eef6" />
<polygon points="491.0,499.4 493.0,499.4 492.7,515.2 490.7,515.2" fill="#e8eef6" />
<polygon points="502.0,499.4 504.0,499.4 504.3,515.2 502.3,515.2" fill="#e8eef6" />
<circle cx="491.7" cy="516.2" r="1.2" fill="#f1b9a0"/>
<circle cx="503.3" cy="516.2" r="1.2" fill="#f1b9a0"/>
<ellipse cx="497.5" cy="493.4" rx="3.6" ry="4.2" fill="#f1b9a0"/>
<path d="M493.5,493.4 a4,4.4 0 0 1 8,0 l-1,-0.5 a3,3 0 0 0 -6,0z" fill="#e0704e"/>
<polygon points="553.9,561.2 579.8,576.0 579.8,464.4 553.9,449.6" fill="#3e5080" />
<polygon points="579.8,576.0 615.0,555.6 615.0,444.0 579.8,464.4" fill="#44567f" />
<polygon points="553.9,449.6 579.8,464.4 615.0,444.0 589.1,429.2" fill="#cbbd7e" />
<polygon points="556.6,549.3 565.2,554.2 565.2,542.2 556.6,537.3" fill="#f2f6fa" />
<polygon points="556.6,534.3 565.2,539.2 565.2,527.3 556.6,522.4" fill="#f2f6fa" />
<polygon points="556.6,519.4 565.2,524.3 565.2,512.3 556.6,507.4" fill="#f2f6fa" />
<polygon points="556.6,504.5 565.2,509.4 565.2,497.4 556.6,492.5" fill="#f2f6fa" />
<polygon points="556.6,489.5 565.2,494.4 565.2,482.5 556.6,477.6" fill="#f2f6fa" />
<polygon points="556.6,474.6 565.2,479.5 565.2,467.5 556.6,462.6" fill="#f2f6fa" />
<polygon points="568.5,556.1 577.1,561.0 577.1,549.0 568.5,544.1" fill="#f2f6fa" />
<polygon points="568.5,541.1 577.1,546.0 577.1,534.1 568.5,529.2" fill="#f2f6fa" />
<polygon points="568.5,526.2 577.1,531.1 577.1,519.1 568.5,514.2" fill="#f2f6fa" />
<polygon points="568.5,511.3 577.1,516.2 577.1,504.2 568.5,499.3" fill="#f2f6fa" />
<polygon points="568.5,496.3 577.1,501.2 577.1,489.3 568.5,484.4" fill="#f2f6fa" />
<polygon points="568.5,481.4 577.1,486.3 577.1,474.3 568.5,469.4" fill="#f2f6fa" />
<polygon points="557.4,548.8 564.3,552.8 564.3,542.6 557.4,538.7" fill="#6cb6e0" />
<polygon points="557.4,533.9 564.3,537.8 564.3,527.7 557.4,523.7" fill="#6cb6e0" />
<polygon points="557.4,519.0 564.3,522.9 564.3,512.8 557.4,508.8" fill="#6cb6e0" />
<polygon points="557.4,504.0 564.3,508.0 564.3,497.8 557.4,493.9" fill="#6cb6e0" />
<polygon points="557.4,489.1 564.3,493.0 564.3,482.9 557.4,478.9" fill="#6cb6e0" />
<polygon points="557.4,474.2 564.3,478.1 564.3,468.0 557.4,464.0" fill="#6cb6e0" />
<polygon points="569.4,555.6 576.3,559.6 576.3,549.4 569.4,545.5" fill="#6cb6e0" />
<polygon points="569.4,540.7 576.3,544.7 576.3,534.5 569.4,530.6" fill="#6cb6e0" />
<polygon points="569.4,525.8 576.3,529.7 576.3,519.6 569.4,515.6" fill="#6cb6e0" />
<polygon points="569.4,510.8 576.3,514.8 576.3,504.6 569.4,500.7" fill="#6cb6e0" />
<polygon points="569.4,495.9 576.3,499.9 576.3,489.7 569.4,485.8" fill="#6cb6e0" />
<polygon points="569.4,481.0 576.3,484.9 576.3,474.8 569.4,470.8" fill="#6cb6e0" />
<polygon points="582.7,560.8 590.5,556.3 590.5,544.4 582.7,548.9" fill="#f2f6fa" />
<polygon points="582.7,545.9 590.5,541.4 590.5,529.4 582.7,533.9" fill="#f2f6fa" />
<polygon points="582.7,530.9 590.5,526.4 590.5,514.5 582.7,519.0" fill="#f2f6fa" />
<polygon points="582.7,516.0 590.5,511.5 590.5,499.6 582.7,504.1" fill="#f2f6fa" />
<polygon points="582.7,501.1 590.5,496.6 590.5,484.6 582.7,489.1" fill="#f2f6fa" />
<polygon points="582.7,486.1 590.5,481.6 590.5,469.7 582.7,474.2" fill="#f2f6fa" />
<polygon points="593.5,554.6 601.3,550.1 601.3,538.1 593.5,542.6" fill="#f2f6fa" />
<polygon points="593.5,539.6 601.3,535.1 601.3,523.2 593.5,527.7" fill="#f2f6fa" />
<polygon points="593.5,524.7 601.3,520.2 601.3,508.2 593.5,512.7" fill="#f2f6fa" />
<polygon points="593.5,509.8 601.3,505.3 601.3,493.3 593.5,497.8" fill="#f2f6fa" />
<polygon points="593.5,494.8 601.3,490.3 601.3,478.4 593.5,482.9" fill="#f2f6fa" />
<polygon points="593.5,479.9 601.3,475.4 601.3,463.4 593.5,467.9" fill="#f2f6fa" />
<polygon points="604.3,548.3 612.1,543.8 612.1,531.9 604.3,536.4" fill="#f2f6fa" />
<polygon points="604.3,533.4 612.1,528.9 612.1,516.9 604.3,521.4" fill="#f2f6fa" />
<polygon points="604.3,518.4 612.1,513.9 612.1,502.0 604.3,506.5" fill="#f2f6fa" />
<polygon points="604.3,503.5 612.1,499.0 612.1,487.1 604.3,491.6" fill="#f2f6fa" />
<polygon points="604.3,488.6 612.1,484.1 612.1,472.1 604.3,476.6" fill="#f2f6fa" />
<polygon points="604.3,473.6 612.1,469.1 612.1,457.2 604.3,461.7" fill="#f2f6fa" />
<polygon points="583.5,559.5 589.7,555.9 589.7,545.7 583.5,549.3" fill="#6cb6e0" />
<polygon points="583.5,544.5 589.7,540.9 589.7,530.8 583.5,534.4" fill="#6cb6e0" />
<polygon points="583.5,529.6 589.7,526.0 589.7,515.8 583.5,519.5" fill="#6cb6e0" />
<polygon points="583.5,514.7 589.7,511.1 589.7,500.9 583.5,504.5" fill="#6cb6e0" />
<polygon points="583.5,499.7 589.7,496.1 589.7,486.0 583.5,489.6" fill="#6cb6e0" />
<polygon points="583.5,484.8 589.7,481.2 589.7,471.0 583.5,474.7" fill="#6cb6e0" />
<polygon points="594.3,553.2 600.5,549.6 600.5,539.4 594.3,543.1" fill="#6cb6e0" />
<polygon points="594.3,538.3 600.5,534.7 600.5,524.5 594.3,528.1" fill="#6cb6e0" />
<polygon points="594.3,523.4 600.5,519.7 600.5,509.6 594.3,513.2" fill="#6cb6e0" />
<polygon points="594.3,508.4 600.5,504.8 600.5,494.6 594.3,498.3" fill="#6cb6e0" />
<polygon points="594.3,493.5 600.5,489.9 600.5,479.7 594.3,483.3" fill="#6cb6e0" />
<polygon points="594.3,478.6 600.5,474.9 600.5,464.8 594.3,468.4" fill="#6cb6e0" />
<polygon points="605.1,547.0 611.3,543.3 611.3,533.2 605.1,536.8" fill="#6cb6e0" />
<polygon points="605.1,532.0 611.3,528.4 611.3,518.3 605.1,521.9" fill="#6cb6e0" />
<polygon points="605.1,517.1 611.3,513.5 611.3,503.3 605.1,506.9" fill="#6cb6e0" />
<polygon points="605.1,502.2 611.3,498.5 611.3,488.4 605.1,492.0" fill="#6cb6e0" />
<polygon points="605.1,487.2 611.3,483.6 611.3,473.5 605.1,477.1" fill="#6cb6e0" />
<polygon points="605.1,472.3 611.3,468.7 611.3,458.5 605.1,462.1" fill="#6cb6e0" />
<polygon points="559.6,564.5 565.6,567.9 565.6,553.9 559.6,550.5" fill="#d8c6a8" />
<polygon points="553.9,449.6 579.8,464.4 615.0,444.0 589.1,429.2" fill="none" stroke="#e7a974" stroke-width="1.0" stroke-dasharray="1.5 1.2"/>
<polyline points="553.9,449.6 579.8,464.4 615.0,444.0" fill="none" stroke="#f5d9c0" stroke-width="3.2"/>
<g transform="rotate(0.0 385 556.5)">
<path d="M0,34 C-3.5,25 -15.8,13 -15.8,0 A15.8,15.8 0 1 1 15.8,0 C15.8,13 3.5,25 0,34 Z" transform="translate(383.8,556.5) scale(1,1.0)" fill="#15b565"/>
<path d="M0,34 C-3.5,25 -15.8,13 -15.8,0 A15.8,15.8 0 1 1 15.8,0 C15.8,13 3.5,25 0,34 Z" transform="translate(386.6,556.3) scale(0.9,0.985)" fill="#04e481"/>
<ellipse cx="387.6" cy="557.1" rx="8.2" ry="8.6" fill="#ffffff"/>
</g>
<g transform="rotate(0.0 482.5 568.5)">
<path d="M0,34 C-3.5,25 -15.8,13 -15.8,0 A15.8,15.8 0 1 1 15.8,0 C15.8,13 3.5,25 0,34 Z" transform="translate(483.7,568.5) scale(1,1.0)" fill="#15b565"/>
<path d="M0,34 C-3.5,25 -15.8,13 -15.8,0 A15.8,15.8 0 1 1 15.8,0 C15.8,13 3.5,25 0,34 Z" transform="translate(480.9,568.3) scale(0.9,0.985)" fill="#04e481"/>
<ellipse cx="479.9" cy="569.1" rx="8.2" ry="8.6" fill="#ffffff"/>
</g>
<g transform="rotate(0.0 434.5 696)">
<path d="M0,34 C-3.5,25 -15.8,13 -15.8,0 A15.8,15.8 0 1 1 15.8,0 C15.8,13 3.5,25 0,34 Z" transform="translate(433.3,696.0) scale(1,1.16)" fill="#15b565"/>
<path d="M0,34 C-3.5,25 -15.8,13 -15.8,0 A15.8,15.8 0 1 1 15.8,0 C15.8,13 3.5,25 0,34 Z" transform="translate(436.1,695.8) scale(0.9,1.143)" fill="#04e481"/>
</g>
<polygon points="336.1,651.4 432.9,707.2 432.9,710.2 336.1,654.4" fill="#a9abb0" />
<polygon points="432.9,707.2 521.1,656.4 521.1,659.4 432.9,710.2" fill="#bcbec2" />
<polygon points="424.3,600.5 521.1,656.4 432.9,707.2 336.1,651.4" fill="#e9eaec" />
<polygon points="424.3,606.3 511.2,656.4 432.9,701.5 346.0,651.4" fill="#2d2e32" />
<polygon points="360.5,652.2 430.2,692.4 430.2,624.4 360.5,584.2" fill="url(#cbL)" />
<polygon points="430.2,692.4 500.1,652.2 500.1,584.2 430.2,624.4" fill="url(#cbR)" />
<polygon points="360.5,620.2 430.2,660.4 430.2,624.4 360.5,584.2" fill="#d5d5d8" />
<polygon points="430.2,660.4 500.1,620.2 500.1,584.2 430.2,624.4" fill="#cacacd" />
<polygon points="360.5,623.7 430.2,663.9 430.2,659.9 360.5,619.7" fill="#8f9095" />
<polygon points="430.2,663.9 500.1,623.7 500.1,619.7 430.2,659.9" fill="#85868b" />
<polygon points="360.5,588.2 430.2,628.4 430.2,624.4 360.5,584.2" fill="#a4a5a9" />
<polygon points="430.2,628.4 500.1,588.2 500.1,584.2 430.2,624.4" fill="#9c9da1" />
<polygon points="370.8,620.6 384.1,628.3 384.1,608.8 370.8,601.1" fill="#ffffff" />
<polygon points="373.3,619.8 382.0,624.9 382.0,609.8 373.3,604.7" fill="url(#winG)" stroke="#2b2f3a" stroke-width="0.8"/>
<polygon points="363.9,623.2 379.5,632.3 385.3,629.0 369.7,619.9" fill="#f4f4f6" />
<polygon points="363.9,625.4 379.5,634.5 379.5,632.3 363.9,623.2" fill="#cfd0d4" />
<polygon points="388.5,630.8 401.8,638.5 401.8,619.0 388.5,611.3" fill="#ffffff" />
<polygon points="391.0,630.1 399.8,635.1 399.8,620.0 391.0,615.0" fill="url(#winG)" stroke="#2b2f3a" stroke-width="0.8"/>
<polygon points="381.6,633.5 397.3,642.5 403.0,639.2 387.4,630.2" fill="#f4f4f6" />
<polygon points="381.6,635.7 397.3,644.7 397.3,642.5 381.6,633.5" fill="#cfd0d4" />
<polygon points="406.2,641.1 419.6,648.8 419.6,629.3 406.2,621.6" fill="#ffffff" />
<polygon points="408.7,640.3 417.5,645.4 417.5,630.3 408.7,625.2" fill="url(#winG)" stroke="#2b2f3a" stroke-width="0.8"/>
<polygon points="399.4,643.7 415.0,652.7 420.7,649.4 405.1,640.4" fill="#f4f4f6" />
<polygon points="399.4,645.9 415.0,654.9 415.0,652.7 399.4,643.7" fill="#cfd0d4" />
<polygon points="440.2,649.2 453.5,641.5 453.5,622.0 440.2,629.7" fill="#ffffff" />
<polygon points="442.6,645.6 451.4,640.5 451.4,625.4 442.6,630.5" fill="url(#winG)" stroke="#2b2f3a" stroke-width="0.8"/>
<polygon points="444.7,653.2 460.4,644.1 454.7,640.8 439.0,649.9" fill="#f4f4f6" />
<polygon points="444.7,655.4 460.4,646.3 460.4,644.1 444.7,653.2" fill="#c8c9cd" />
<polygon points="457.9,639.0 471.3,631.3 471.3,611.8 457.9,619.5" fill="#ffffff" />
<polygon points="460.4,635.3 469.2,630.3 469.2,615.2 460.4,620.2" fill="url(#winG)" stroke="#2b2f3a" stroke-width="0.8"/>
<polygon points="462.5,642.9 478.2,633.9 472.4,630.6 456.8,639.6" fill="#f4f4f6" />
<polygon points="462.5,645.1 478.2,636.1 478.2,633.9 462.5,642.9" fill="#c8c9cd" />
<polygon points="475.7,628.7 489.1,621.0 489.1,601.5 475.7,609.2" fill="#ffffff" />
<polygon points="478.2,625.1 487.0,620.0 487.0,605.0 478.2,610.0" fill="url(#winG)" stroke="#2b2f3a" stroke-width="0.8"/>
<polygon points="480.3,632.7 495.9,623.7 490.2,620.4 474.5,629.4" fill="#f4f4f6" />
<polygon points="480.3,634.9 495.9,625.9 495.9,623.7 480.3,632.7" fill="#c8c9cd" />
<polygon points="430.4,543.9 500.1,584.2 430.2,624.4 360.5,584.2" fill="#d3d3d6" />
<polygon points="430.4,549.4 490.6,584.2 430.2,618.9 370.0,584.2" fill="#2e2f33" />
<polygon points="430.2,618.9 485.8,586.9 430.4,554.9 374.8,586.9" fill="url(#roofG)" />
<polygon points="416.3,559.7 429.8,568.3 429.8,576.5 416.3,567.9" fill="#e3dccf" />
<polygon points="429.8,568.3 445.4,559.2 445.4,567.4 429.8,576.5" fill="#cbc3b5" />
<polygon points="416.3,559.7 430.8,550.6 445.4,559.2 429.8,568.3" fill="#f3ede3" />
<ellipse cx="430.3" cy="558.8" rx="7.6" ry="4.4" fill="#38393e"/>
<ellipse cx="430.3" cy="558.8" rx="3.0" ry="1.7" fill="#dcd8d0"/>
<polygon points="394.4,580.5 402.0,576.5 409.5,581.0 402.0,585.5" fill="#4a4b50" />
<polygon points="385.0,583.5 395.5,589.5 395.5,593.0 385.0,587.0" fill="#e6e4e0" />
<polygon points="395.5,589.5 398.5,587.8 398.5,591.3 395.5,593.0" fill="#c9c7c2" />
<polygon points="385.0,583.5 388.0,581.8 398.5,587.8 395.5,589.5" fill="#f4f2ee" />
<polygon points="411.0,597.0 414.5,599.0 414.5,606.0 411.0,604.0" fill="#e8dccb" />
<polygon points="414.5,599.0 418.0,597.0 418.0,604.0 414.5,606.0" fill="#cfc3b1" />
<polygon points="411.0,597.0 414.5,595.0 418.0,597.0 414.5,599.0" fill="#f6efe4" />
<g transform="rotate(10 158.3 442.5)">
<path d="M0,34 C-3.5,25 -15.8,13 -15.8,0 A15.8,15.8 0 1 1 15.8,0 C15.8,13 3.5,25 0,34 Z" transform="translate(157.1,442.5) scale(1,1.0)" fill="#15b565"/>
<path d="M0,34 C-3.5,25 -15.8,13 -15.8,0 A15.8,15.8 0 1 1 15.8,0 C15.8,13 3.5,25 0,34 Z" transform="translate(159.9,442.3) scale(0.9,0.985)" fill="#04e481"/>
<ellipse cx="160.9" cy="443.1" rx="8.2" ry="8.6" fill="#ffffff"/>
</g>
<g transform="rotate(3.5 164.7 491)">
<path d="M0,34 C-3.5,25 -15.8,13 -15.8,0 A15.8,15.8 0 1 1 15.8,0 C15.8,13 3.5,25 0,34 Z" transform="translate(165.9,491.0) scale(1,1.0)" fill="#15b565"/>
<path d="M0,34 C-3.5,25 -15.8,13 -15.8,0 A15.8,15.8 0 1 1 15.8,0 C15.8,13 3.5,25 0,34 Z" transform="translate(163.1,490.8) scale(0.9,0.985)" fill="#04e481"/>
<ellipse cx="162.1" cy="491.6" rx="8.2" ry="8.6" fill="#ffffff"/>
</g>
<g transform="rotate(4 275.7 553.8)">
<path d="M0,34 C-3.5,25 -15.8,13 -15.8,0 A15.8,15.8 0 1 1 15.8,0 C15.8,13 3.5,25 0,34 Z" transform="translate(274.5,553.8) scale(1,1.0)" fill="#15b565"/>
<path d="M0,34 C-3.5,25 -15.8,13 -15.8,0 A15.8,15.8 0 1 1 15.8,0 C15.8,13 3.5,25 0,34 Z" transform="translate(277.3,553.6) scale(0.9,0.985)" fill="#04e481"/>
<ellipse cx="278.3" cy="554.4" rx="8.2" ry="8.6" fill="#ffffff"/>
</g>
<g transform="rotate(4 266.2 602.5)">
<path d="M0,34 C-3.5,25 -15.8,13 -15.8,0 A15.8,15.8 0 1 1 15.8,0 C15.8,13 3.5,25 0,34 Z" transform="translate(267.4,602.5) scale(1,1.0)" fill="#15b565"/>
<path d="M0,34 C-3.5,25 -15.8,13 -15.8,0 A15.8,15.8 0 1 1 15.8,0 C15.8,13 3.5,25 0,34 Z" transform="translate(264.6,602.3) scale(0.9,0.985)" fill="#04e481"/>
<ellipse cx="263.6" cy="603.1" rx="8.2" ry="8.6" fill="#ffffff"/>
</g>
<g transform="rotate(-2.5 584.6 567.3)">
<path d="M0,34 C-3.5,25 -15.8,13 -15.8,0 A15.8,15.8 0 1 1 15.8,0 C15.8,13 3.5,25 0,34 Z" transform="translate(585.8,567.3) scale(1,1.0)" fill="#15b565"/>
<path d="M0,34 C-3.5,25 -15.8,13 -15.8,0 A15.8,15.8 0 1 1 15.8,0 C15.8,13 3.5,25 0,34 Z" transform="translate(583.0,567.1) scale(0.9,0.985)" fill="#04e481"/>
<ellipse cx="582.0" cy="567.9" rx="8.2" ry="8.6" fill="#ffffff"/>
</g>
<g transform="rotate(-2 592.5 614)">
<path d="M0,34 C-3.5,25 -15.8,13 -15.8,0 A15.8,15.8 0 1 1 15.8,0 C15.8,13 3.5,25 0,34 Z" transform="translate(591.3,614.0) scale(1,1.0)" fill="#15b565"/>
<path d="M0,34 C-3.5,25 -15.8,13 -15.8,0 A15.8,15.8 0 1 1 15.8,0 C15.8,13 3.5,25 0,34 Z" transform="translate(594.1,613.8) scale(0.9,0.985)" fill="#04e481"/>
<ellipse cx="595.1" cy="614.6" rx="8.2" ry="8.6" fill="#ffffff"/>
</g>
<g transform="rotate(-7 696 466)">
<path d="M0,34 C-3.5,25 -15.8,13 -15.8,0 A15.8,15.8 0 1 1 15.8,0 C15.8,13 3.5,25 0,34 Z" transform="translate(697.2,466.0) scale(1,1.0)" fill="#15b565"/>
<path d="M0,34 C-3.5,25 -15.8,13 -15.8,0 A15.8,15.8 0 1 1 15.8,0 C15.8,13 3.5,25 0,34 Z" transform="translate(694.4,465.8) scale(0.9,0.985)" fill="#04e481"/>
<ellipse cx="693.4" cy="466.6" rx="8.2" ry="8.6" fill="#ffffff"/>
</g>
<g transform="rotate(-2 689.7 510.5)">
<path d="M0,34 C-3.5,25 -15.8,13 -15.8,0 A15.8,15.8 0 1 1 15.8,0 C15.8,13 3.5,25 0,34 Z" transform="translate(688.5,510.5) scale(1,1.0)" fill="#15b565"/>
<path d="M0,34 C-3.5,25 -15.8,13 -15.8,0 A15.8,15.8 0 1 1 15.8,0 C15.8,13 3.5,25 0,34 Z" transform="translate(691.3,510.3) scale(0.9,0.985)" fill="#04e481"/>
<ellipse cx="692.3" cy="511.1" rx="8.2" ry="8.6" fill="#ffffff"/>
</g>
<polygon points="308.5,668.0 310.5,660.0 317.0,653.0 325.2,650.4 347.4,662.2 356.0,667.5 363.7,677.0 366.0,685.9 363.0,692.0 353.3,695.0 341.5,692.0 317.0,681.0 310.0,675.0" fill="#f5a122" />
<polygon points="310.0,675.0 317.0,681.0 341.5,692.0 353.3,695.0 363.0,692.0 363.0,694.5 353.0,697.5 341.0,694.5 316.0,683.5 309.5,677.5" fill="#e58f12" />
<polygon points="317.0,653.0 325.2,650.4 343.0,659.5 346.0,664.0 338.0,667.5 316.5,657.0" fill="#f8ae38" />
<polygon points="313.5,661.0 318.0,657.5 337.0,667.5 338.0,676.5 314.0,667.0" fill="#2c3ba0" />
<polygon points="338.0,667.5 346.0,663.5 357.0,671.5 357.5,679.5 339.0,676.5" fill="#3046b4" />
<polygon points="341.0,670.0 350.0,667.0 356.0,672.0 343.0,674.0" fill="#4d63c8" />
<polygon points="339.0,676.5 357.5,679.5 365.0,679.0 366.0,686.0 355.0,688.0 343.0,683.0" fill="#f7aa30" />
<circle cx="313.8" cy="675.5" r="3.7" fill="#2f3fa0"/><circle cx="313.8" cy="675.5" r="1.6" fill="#b9c4ee"/>
<circle cx="342.5" cy="691.5" r="3.7" fill="#2f3fa0"/><circle cx="342.5" cy="691.5" r="1.6" fill="#b9c4ee"/>
<polygon points="328.0,655.5 334.0,654.0 335.5,657.0 329.5,658.5" fill="#2a2d38" />
<rect x="319.5" y="673.5" width="2.0" height="2.0" fill="#243090"/>
<rect x="321.3" y="675.6" width="2.0" height="2.0" fill="#243090"/>
<rect x="323.1" y="675.5" width="2.0" height="2.0" fill="#243090"/>
<rect x="324.9" y="677.6" width="2.0" height="2.0" fill="#243090"/>
<rect x="326.7" y="677.5" width="2.0" height="2.0" fill="#243090"/>
<rect x="328.5" y="679.6" width="2.0" height="2.0" fill="#243090"/>
<rect x="330.3" y="679.5" width="2.0" height="2.0" fill="#243090"/>
<rect x="332.1" y="681.6" width="2.0" height="2.0" fill="#243090"/>
<rect x="333.9" y="681.5" width="2.0" height="2.0" fill="#243090"/>
<rect x="335.7" y="683.6" width="2.0" height="2.0" fill="#243090"/>
<polygon points="348.0,686.5 356.5,686.0 357.5,688.8 349.0,689.5" fill="#f3f6ff" />
<polygon points="358.0,686.0 365.5,683.0 366.0,685.5 358.5,688.5" fill="#2a35a0" />
<polygon points="606.8,582.0 608.8,578.5 619.0,570.1 622.4,564.7 632.0,557.5 641.0,554.5 648.0,554.5 657.5,560.0 659.3,566.5 656.0,573.5 632.0,587.5 621.0,592.0 612.0,590.0 607.5,586.0" fill="#f5a32a" />
<polygon points="621.0,592.0 632.0,587.5 656.0,573.5 656.0,576.5 632.5,590.5 622.0,594.5 612.0,592.0 612.0,590.0" fill="#e08d18" />
<polygon points="622.4,564.7 632.0,557.5 641.0,556.0 652.0,561.5 641.5,568.0 634.0,572.8" fill="#f7ad3a" />
<polygon points="619.0,570.1 622.4,564.7 633.9,572.8 631.2,577.6" fill="#a9cde8" />
<polygon points="634.6,576.9 641.4,568.1 650.9,566.0 648.9,569.4 636.5,577.0" fill="#a9cde8" />
<polygon points="640.7,556.5 646.0,555.5 654.0,561.5 651.6,564.7" fill="#a9cde8" />
<polygon points="606.8,582.0 608.8,578.5 619.0,570.1 631.2,577.6 621.0,586.0 612.0,588.0" fill="#f6a52e" />
<circle cx="628" cy="588.3" r="3.5" fill="#2a2d38"/><circle cx="628" cy="588.3" r="1.5" fill="#c8c8cc"/>
<circle cx="652.3" cy="574.4" r="3.5" fill="#2a2d38"/><circle cx="652.3" cy="574.4" r="1.5" fill="#c8c8cc"/>
<polygon points="619.0,586.0 624.0,583.5 625.0,585.5 620.0,588.0" fill="#f4f6fa" />
<polygon points="608.0,584.0 616.0,588.5 617.0,590.5 608.5,586.5" fill="#2a2d38" />
<polygon points="632.0,561.5 636.5,559.5 638.5,561.5 634.0,563.5" fill="#f4f4f4" />
<rect x="637.0" y="579.0" width="1.8" height="1.8" fill="#2a2d38"/>
<rect x="640.2" y="577.2" width="1.8" height="1.8" fill="#2a2d38"/>
<rect x="643.4" y="575.4" width="1.8" height="1.8" fill="#2a2d38"/>
<rect x="646.6" y="573.6" width="1.8" height="1.8" fill="#2a2d38"/>
<polygon points="657.0,563.0 659.3,564.0 659.3,566.0 657.0,565.0" fill="#e03030" />
<circle cx="442.6" cy="246.8" r="21.4" fill="#ffffff" stroke="url(#wifiRing)" stroke-width="1.5"/>
<path d="M428.2,241.1 A22.2,22.2 0 0 1 455.0,241.1" fill="none" stroke="#6eb0da" stroke-width="3.0" stroke-linecap="round"/>
<path d="M431.2,244.4 A16.3,16.3 0 0 1 452.0,244.4" fill="none" stroke="#3b5688" stroke-width="2.9" stroke-linecap="round"/>
<path d="M434.1,247.9 A12.0,12.0 0 0 1 449.1,247.9" fill="none" stroke="#2a2d38" stroke-width="2.9" stroke-linecap="round"/>
<path d="M437.5,251.5 A6.85,6.85 0 0 1 445.7,251.5" fill="none" stroke="#2a2d38" stroke-width="2.8" stroke-linecap="round"/>
<circle cx="441.2" cy="255.3" r="3.1" fill="#2a2d38"/>
<circle cx="111.2" cy="441.5" r="21.4" fill="#ffffff" stroke="url(#wifiRing)" stroke-width="1.5"/>
<path d="M96.8,435.8 A22.2,22.2 0 0 1 123.6,435.8" fill="none" stroke="#6eb0da" stroke-width="3.0" stroke-linecap="round"/>
<path d="M99.8,439.1 A16.3,16.3 0 0 1 120.6,439.1" fill="none" stroke="#3b5688" stroke-width="2.9" stroke-linecap="round"/>
<path d="M102.7,442.6 A12.0,12.0 0 0 1 117.7,442.6" fill="none" stroke="#2a2d38" stroke-width="2.9" stroke-linecap="round"/>
<path d="M106.1,446.2 A6.85,6.85 0 0 1 114.3,446.2" fill="none" stroke="#2a2d38" stroke-width="2.8" stroke-linecap="round"/>
<circle cx="109.8" cy="450.0" r="3.1" fill="#2a2d38"/>
<circle cx="780.6" cy="487.5" r="21.4" fill="#ffffff" stroke="url(#wifiRing)" stroke-width="1.5"/>
<path d="M766.2,481.8 A22.2,22.2 0 0 1 793.0,481.8" fill="none" stroke="#6eb0da" stroke-width="3.0" stroke-linecap="round"/>
<path d="M769.2,485.1 A16.3,16.3 0 0 1 790.0,485.1" fill="none" stroke="#3b5688" stroke-width="2.9" stroke-linecap="round"/>
<path d="M772.1,488.6 A12.0,12.0 0 0 1 787.1,488.6" fill="none" stroke="#2a2d38" stroke-width="2.9" stroke-linecap="round"/>
<path d="M775.5,492.2 A6.85,6.85 0 0 1 783.7,492.2" fill="none" stroke="#2a2d38" stroke-width="2.8" stroke-linecap="round"/>
<circle cx="779.2" cy="496.0" r="3.1" fill="#2a2d38"/>
<g transform="translate(705.9,378.5) rotate(-27.85)"><rect x="0" y="0" width="234.6" height="35.8" fill="#2689a6"/><text x="25.5" y="25.5" font-size="25" fill="#ffffff" stroke="#ffffff" stroke-width="0.5" textLength="177" lengthAdjust="spacingAndGlyphs">Activity-Live</text></g>
<g transform="translate(543.5,714.5) rotate(-28)"><text x="0" y="0" font-size="19" fill="#ffffff" textLength="186" lengthAdjust="spacingAndGlyphs">GPS Fleet Tracking</text></g>
<circle cx="1062.6" cy="69.0" r="51.2" fill="#ffffff" stroke="#7e8188" stroke-width="0.9"/>
<path d="M1018.5999999999999,39.0 A51,51 0 0 1 1052.6,19.5" fill="none" stroke="#a8cdec" stroke-width="1.4"/>
<circle cx="1065.3999999999999" cy="71.4" r="48.6" fill="#a9ccec"/>
<circle cx="1062.6" cy="69.0" r="44" fill="#efeff0" stroke="#64666d" stroke-width="0.9"/>
<line x1="1062.6" y1="30.0" x2="1062.6" y2="26.0" stroke="#9a9ca2" stroke-width="0.9"/>
<line x1="1090.2" y1="41.4" x2="1093.0" y2="38.6" stroke="#9a9ca2" stroke-width="0.9"/>
<line x1="1101.6" y1="69.0" x2="1105.6" y2="69.0" stroke="#9a9ca2" stroke-width="0.9"/>
<line x1="1090.2" y1="96.6" x2="1093.0" y2="99.4" stroke="#9a9ca2" stroke-width="0.9"/>
<line x1="1062.6" y1="108.0" x2="1062.6" y2="112.0" stroke="#9a9ca2" stroke-width="0.9"/>
<line x1="1035.0" y1="96.6" x2="1032.2" y2="99.4" stroke="#9a9ca2" stroke-width="0.9"/>
<line x1="1023.6" y1="69.0" x2="1019.6" y2="69.0" stroke="#9a9ca2" stroke-width="0.9"/>
<line x1="1035.0" y1="41.4" x2="1032.2" y2="38.6" stroke="#9a9ca2" stroke-width="0.9"/>
<line x1="1062.6" y1="69.0" x2="1062.6" y2="39.0" stroke="#4a8fe0" stroke-width="2"/>
<line x1="1062.6" y1="69.0" x2="1089.6" y2="69.0" stroke="#4a8fe0" stroke-width="2"/>
<circle cx="1062.6" cy="69.0" r="2.6" fill="#ffffff" stroke="#8a8c92" stroke-width="0.8"/>
<polygon points="891.5,176.5 1040.0,263.5 1130.5,208.0 1130.5,215.0 1040.0,270.5 891.5,183.5" fill="#c3c4c9" stroke="#c3c4c9" stroke-width="10" stroke-linejoin="round"/>
<polygon points="891.5,176.5 978.0,124.5 1130.5,208.0 1040.0,263.5" fill="#e7e7e9" stroke="#e7e7e9" stroke-width="10" stroke-linejoin="round"/>
<polygon points="901.8,179.5 981.5,131.0 1112.0,200.5 1031.5,249.5" fill="#7cc0ee" />
<polygon points="912.0,173.5 979.0,133.5 992.5,141.0 925.5,181.0" fill="#e4e4e6" stroke="#e4e4e6" stroke-width="5" stroke-linejoin="round"/>
<line x1="919.0" y1="172.0" x2="982.0" y2="136.0" stroke="#8c8d92" stroke-width="1.3"/>
<line x1="920.9" y1="175.2" x2="983.9" y2="139.2" stroke="#8c8d92" stroke-width="1.3"/>
<line x1="922.8" y1="178.4" x2="985.8" y2="142.4" stroke="#8c8d92" stroke-width="1.3"/>
<circle cx="923" cy="160" r="1.6" fill="#8c8d92"/>
<line x1="935" y1="152.5" x2="957" y2="140" stroke="#8c8d92" stroke-width="1.3"/>
<ellipse cx="1081.5" cy="231" rx="9" ry="5.6" fill="#999a9f" transform="rotate(-8 1081.5 231)"/>
<line x1="1085" y1="242" x2="1096" y2="236" stroke="#c8c9cd" stroke-width="1.2"/>
<line x1="912" y1="199" x2="944" y2="217" stroke="#b9babf" stroke-width="1.3"/>
<polygon points="1185.0,263.5 1209.3,245.5 1274.3,283.3 1248.1,298.0" fill="#b3b5ba" />
<polygon points="1335.4,145.8 1342.8,141.5 1346.8,311.7 1339.4,316.0" fill="#b3b6bb" stroke="#b3b6bb" stroke-width="6" stroke-linejoin="round"/>
<polygon points="1152.4,42.8 1335.4,145.8 1342.8,141.5 1159.8,38.5" fill="#d2d4d8" stroke="#d2d4d8" stroke-width="6" stroke-linejoin="round"/>
<polygon points="1153.4,48.3 1334.4,150.2 1334.4,311.2 1157.4,209.6 1153.4,203.3" fill="#e1e2e5" stroke="#e1e2e5" stroke-width="10" stroke-linejoin="round"/>
<polygon points="1152.4,46.8 1335.4,149.8 1335.4,286.4 1152.4,183.4" fill="#393c42" stroke="#393c42" stroke-width="8" stroke-linejoin="round"/>
<polygon points="1155.8,56.0 1328.4,153.1 1328.4,279.8 1155.8,182.7" fill="#ececec" />
<polygon points="1163.4,68.9 1320.4,157.3 1320.4,159.9 1163.4,71.5" fill="#c2c3c7" />
<polygon points="1195.9,124.2 1208.9,131.6 1208.9,171.6 1195.9,164.2" fill="#e03131" />
<polygon points="1211.9,150.3 1224.4,157.3 1224.4,180.3 1211.9,173.3" fill="#e03131" />
<polygon points="1231.4,132.2 1244.9,139.8 1244.9,191.8 1231.4,184.2" fill="#e03131" />
<polygon points="1248.9,146.1 1263.4,154.2 1263.4,202.2 1248.9,194.1" fill="#e03131" />
<polygon points="1269.4,165.6 1283.9,173.8 1283.9,213.8 1269.4,205.6" fill="#e03131" />
<polygon points="1195.4,166.0 1284.4,216.1 1284.4,217.4 1195.4,167.3" fill="#a7a8ad" />
<polygon points="1195.4,169.4 1284.4,219.5 1284.4,220.8 1195.4,170.7" fill="#a7a8ad" />
<polygon points="1195.4,172.8 1284.4,222.9 1284.4,224.2 1195.4,174.1" fill="#a7a8ad" />
<polygon points="1195.4,176.2 1284.4,226.3 1284.4,227.6 1195.4,177.5" fill="#a7a8ad" />
<polygon points="1195.4,179.6 1284.4,229.7 1284.4,231.0 1195.4,180.9" fill="#a7a8ad" />
<polygon points="1195.4,183.0 1284.4,233.1 1284.4,234.4 1195.4,184.3" fill="#a7a8ad" />
<polygon points="1195.4,186.4 1284.4,236.5 1284.4,237.8 1195.4,187.7" fill="#a7a8ad" />
<polygon points="1195.4,189.8 1284.4,239.9 1284.4,241.2 1195.4,191.1" fill="#a7a8ad" />
<polygon points="1195.4,193.2 1284.4,243.3 1284.4,244.6 1195.4,194.5" fill="#a7a8ad" />
<text x="1160.4" y="79.8" transform="rotate(29 1160.4 79.8)" font-size="10.5" font-weight="bold" fill="#30343c" textLength="55" lengthAdjust="spacingAndGlyphs">RIOD LIVE</text>
<polygon points="1067.4,299.1 1193.3,374.1 1268.3,330.6 1268.3,333.6 1193.3,377.1 1067.4,302.1" fill="#b3b5ba" />
<polygon points="1067.4,299.1 1139.6,255.6 1268.3,330.6 1193.3,374.1" fill="#d6d8dc" />
<polygon points="1141.5,265.9 1152.1,271.9 1141.9,277.6 1131.3,271.7" fill="#36373c" />
<polygon points="1153.8,272.8 1164.3,278.8 1154.1,284.5 1143.6,278.6" fill="#36373c" />
<polygon points="1166.0,279.7 1176.5,285.7 1166.3,291.4 1155.8,285.5" fill="#36373c" />
<polygon points="1178.3,286.6 1188.8,292.5 1178.6,298.3 1168.1,292.3" fill="#36373c" />
<polygon points="1190.5,293.5 1201.0,299.4 1190.8,305.2 1180.3,299.2" fill="#36373c" />
<polygon points="1202.7,300.4 1213.3,306.3 1203.1,312.0 1192.5,306.1" fill="#36373c" />
<polygon points="1215.0,307.3 1225.5,313.2 1215.3,318.9 1204.8,313.0" fill="#36373c" />
<polygon points="1227.2,314.2 1237.8,320.1 1227.6,325.8 1217.0,319.9" fill="#36373c" />
<polygon points="1239.5,321.1 1250.0,327.0 1239.8,332.7 1229.3,326.8" fill="#36373c" />
<polygon points="1129.7,272.6 1140.2,278.5 1130.0,284.3 1119.5,278.3" fill="#36373c" />
<polygon points="1141.9,279.5 1152.4,285.4 1142.2,291.1 1131.7,285.2" fill="#36373c" />
<polygon points="1154.2,286.4 1164.7,292.3 1154.5,298.0 1144.0,292.1" fill="#36373c" />
<polygon points="1166.4,293.3 1176.9,299.2 1166.7,304.9 1156.2,299.0" fill="#36373c" />
<polygon points="1178.6,300.2 1189.2,306.1 1179.0,311.8 1168.4,305.9" fill="#36373c" />
<polygon points="1190.9,307.1 1201.4,313.0 1191.2,318.7 1180.7,312.8" fill="#36373c" />
<polygon points="1203.1,313.9 1213.7,319.9 1203.5,325.6 1192.9,319.7" fill="#36373c" />
<polygon points="1215.4,320.8 1225.9,326.8 1215.7,332.5 1205.2,326.6" fill="#36373c" />
<polygon points="1227.6,327.7 1238.2,333.6 1228.0,339.4 1217.4,333.4" fill="#36373c" />
<polygon points="1117.8,279.3 1128.3,285.2 1118.1,290.9 1107.6,285.0" fill="#36373c" />
<polygon points="1130.1,286.2 1140.6,292.1 1130.4,297.8 1119.9,291.9" fill="#36373c" />
<polygon points="1142.3,293.0 1152.8,299.0 1142.6,304.7 1132.1,298.8" fill="#36373c" />
<polygon points="1154.5,299.9 1165.1,305.9 1154.9,311.6 1144.3,305.7" fill="#36373c" />
<polygon points="1166.8,306.8 1177.3,312.7 1167.1,318.5 1156.6,312.6" fill="#36373c" />
<polygon points="1179.0,313.7 1189.6,319.6 1179.4,325.4 1168.8,319.4" fill="#36373c" />
<polygon points="1191.3,320.6 1201.8,326.5 1191.6,332.3 1181.1,326.3" fill="#36373c" />
<polygon points="1203.5,327.5 1214.0,333.4 1203.8,339.1 1193.3,333.2" fill="#36373c" />
<polygon points="1215.8,334.4 1226.3,340.3 1216.1,346.0 1205.6,340.1" fill="#36373c" />
<polygon points="1105.9,285.9 1116.5,291.9 1106.3,297.6 1095.7,291.7" fill="#36373c" />
<polygon points="1118.2,292.8 1128.7,298.7 1118.5,304.5 1108.0,298.5" fill="#36373c" />
<polygon points="1130.4,299.7 1141.0,305.6 1130.8,311.4 1120.2,305.4" fill="#36373c" />
<polygon points="1142.7,306.6 1153.2,312.5 1143.0,318.2 1132.5,312.3" fill="#36373c" />
<polygon points="1154.9,313.5 1165.5,319.4 1155.3,325.1 1144.7,319.2" fill="#36373c" />
<polygon points="1167.2,320.4 1177.7,326.3 1167.5,332.0 1157.0,326.1" fill="#36373c" />
<polygon points="1179.4,327.3 1189.9,333.2 1179.7,338.9 1169.2,333.0" fill="#36373c" />
<polygon points="1191.7,334.2 1202.2,340.1 1192.0,345.8 1181.5,339.9" fill="#36373c" />
<polygon points="1203.9,341.0 1214.4,347.0 1204.2,352.7 1193.7,346.8" fill="#36373c" />
<polygon points="1094.1,292.6 1104.6,298.5 1094.4,304.2 1083.9,298.3" fill="#36373c" />
<polygon points="1106.3,299.5 1153.6,326.1 1143.4,331.8 1096.1,305.2" fill="#36373c" />
<polygon points="1155.3,327.0 1165.8,333.0 1155.6,338.7 1145.1,332.8" fill="#36373c" />
<polygon points="1167.6,333.9 1178.1,339.8 1167.9,345.6 1157.4,339.6" fill="#36373c" />
<polygon points="1179.8,340.8 1190.3,346.7 1180.1,352.5 1169.6,346.5" fill="#36373c" />
<polygon points="1192.0,347.7 1202.6,353.6 1192.4,359.4 1181.8,353.4" fill="#36373c" />
<ellipse cx="1276.5" cy="377.5" rx="35" ry="19" fill="#a2a4a9" transform="rotate(-17 1276.5 377.5)"/>
<ellipse cx="1274.5" cy="375" rx="35" ry="19" fill="#f0f0f1" transform="rotate(-17 1274.5 375)"/>
</svg></body></html>
